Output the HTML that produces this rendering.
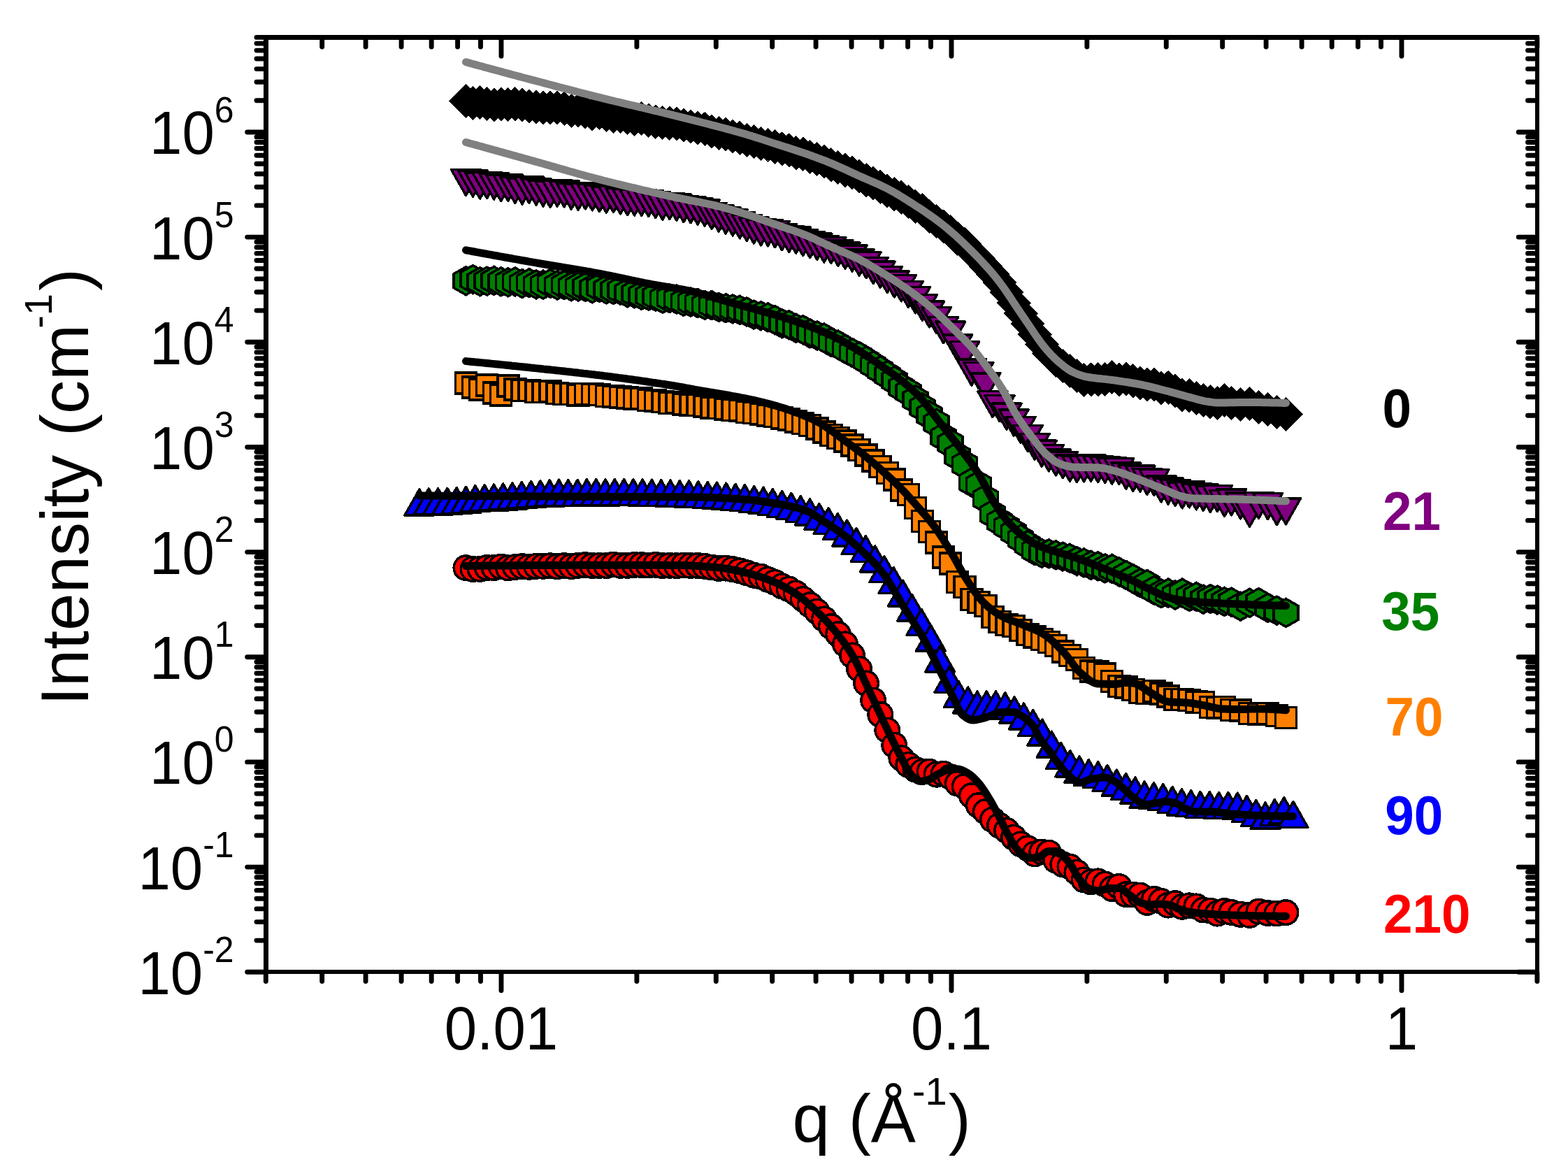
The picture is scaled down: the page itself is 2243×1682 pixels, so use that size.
<!DOCTYPE html>
<html lang="en"><head><meta charset="utf-8"><title>Intensity vs q</title>
<style>html,body{margin:0;padding:0;background:#fff}body{width:2243px;height:1682px;overflow:hidden}svg{display:block}</style>
</head><body>
<svg width="2243" height="1682" viewBox="0 0 2243 1682" role="img" aria-label="Intensity versus q">
<rect width="2243" height="1682" fill="#fff"/>
<g id="series">
<g fill="#000" stroke="#000" stroke-width="3.5" stroke-linejoin="miter" shape-rendering="crispEdges"><path d="M644.4 144.2l22.1 -22.1l22.1 22.1l-22.1 22.1z"/><path d="M654.4 147.5l22.1 -22.1l22.1 22.1l-22.1 22.1z"/><path d="M664.5 146.7l22.1 -22.1l22.1 22.1l-22.1 22.1z"/><path d="M674.5 148.4l22.1 -22.1l22.1 22.1l-22.1 22.1z"/><path d="M684.6 150.0l22.1 -22.1l22.1 22.1l-22.1 22.1z"/><path d="M694.6 149.0l22.1 -22.1l22.1 22.1l-22.1 22.1z"/><path d="M704.7 149.6l22.1 -22.1l22.1 22.1l-22.1 22.1z"/><path d="M714.7 148.7l22.1 -22.1l22.1 22.1l-22.1 22.1z"/><path d="M724.8 150.2l22.1 -22.1l22.1 22.1l-22.1 22.1z"/><path d="M734.8 151.7l22.1 -22.1l22.1 22.1l-22.1 22.1z"/><path d="M744.9 153.1l22.1 -22.1l22.1 22.1l-22.1 22.1z"/><path d="M754.9 154.4l22.1 -22.1l22.1 22.1l-22.1 22.1z"/><path d="M765.0 153.8l22.1 -22.1l22.1 22.1l-22.1 22.1z"/><path d="M775.0 153.7l22.1 -22.1l22.1 22.1l-22.1 22.1z"/><path d="M785.0 155.4l22.1 -22.1l22.1 22.1l-22.1 22.1z"/><path d="M795.1 158.6l22.1 -22.1l22.1 22.1l-22.1 22.1z"/><path d="M805.1 157.7l22.1 -22.1l22.1 22.1l-22.1 22.1z"/><path d="M815.2 159.9l22.1 -22.1l22.1 22.1l-22.1 22.1z"/><path d="M825.2 162.8l22.1 -22.1l22.1 22.1l-22.1 22.1z"/><path d="M835.3 161.4l22.1 -22.1l22.1 22.1l-22.1 22.1z"/><path d="M845.3 164.4l22.1 -22.1l22.1 22.1l-22.1 22.1z"/><path d="M855.4 166.8l22.1 -22.1l22.1 22.1l-22.1 22.1z"/><path d="M865.4 166.0l22.1 -22.1l22.1 22.1l-22.1 22.1z"/><path d="M875.5 168.2l22.1 -22.1l22.1 22.1l-22.1 22.1z"/><path d="M885.5 170.6l22.1 -22.1l22.1 22.1l-22.1 22.1z"/><path d="M895.5 169.7l22.1 -22.1l22.1 22.1l-22.1 22.1z"/><path d="M905.6 172.2l22.1 -22.1l22.1 22.1l-22.1 22.1z"/><path d="M915.6 174.2l22.1 -22.1l22.1 22.1l-22.1 22.1z"/><path d="M925.7 175.4l22.1 -22.1l22.1 22.1l-22.1 22.1z"/><path d="M935.7 176.3l22.1 -22.1l22.1 22.1l-22.1 22.1z"/><path d="M945.8 177.1l22.1 -22.1l22.1 22.1l-22.1 22.1z"/><path d="M955.8 179.3l22.1 -22.1l22.1 22.1l-22.1 22.1z"/><path d="M965.9 180.7l22.1 -22.1l22.1 22.1l-22.1 22.1z"/><path d="M975.9 182.7l22.1 -22.1l22.1 22.1l-22.1 22.1z"/><path d="M986.0 184.5l22.1 -22.1l22.1 22.1l-22.1 22.1z"/><path d="M996.0 188.0l22.1 -22.1l22.1 22.1l-22.1 22.1z"/><path d="M1006.1 190.4l22.1 -22.1l22.1 22.1l-22.1 22.1z"/><path d="M1016.1 191.9l22.1 -22.1l22.1 22.1l-22.1 22.1z"/><path d="M1026.1 195.2l22.1 -22.1l22.1 22.1l-22.1 22.1z"/><path d="M1036.2 197.2l22.1 -22.1l22.1 22.1l-22.1 22.1z"/><path d="M1046.2 200.3l22.1 -22.1l22.1 22.1l-22.1 22.1z"/><path d="M1056.3 202.5l22.1 -22.1l22.1 22.1l-22.1 22.1z"/><path d="M1066.3 205.7l22.1 -22.1l22.1 22.1l-22.1 22.1z"/><path d="M1076.4 207.4l22.1 -22.1l22.1 22.1l-22.1 22.1z"/><path d="M1086.4 210.0l22.1 -22.1l22.1 22.1l-22.1 22.1z"/><path d="M1096.5 213.0l22.1 -22.1l22.1 22.1l-22.1 22.1z"/><path d="M1106.5 215.0l22.1 -22.1l22.1 22.1l-22.1 22.1z"/><path d="M1116.6 218.8l22.1 -22.1l22.1 22.1l-22.1 22.1z"/><path d="M1126.6 220.2l22.1 -22.1l22.1 22.1l-22.1 22.1z"/><path d="M1136.6 224.7l22.1 -22.1l22.1 22.1l-22.1 22.1z"/><path d="M1146.7 227.5l22.1 -22.1l22.1 22.1l-22.1 22.1z"/><path d="M1156.7 231.2l22.1 -22.1l22.1 22.1l-22.1 22.1z"/><path d="M1166.8 235.6l22.1 -22.1l22.1 22.1l-22.1 22.1z"/><path d="M1176.8 239.5l22.1 -22.1l22.1 22.1l-22.1 22.1z"/><path d="M1186.9 243.5l22.1 -22.1l22.1 22.1l-22.1 22.1z"/><path d="M1196.9 247.1l22.1 -22.1l22.1 22.1l-22.1 22.1z"/><path d="M1207.0 251.7l22.1 -22.1l22.1 22.1l-22.1 22.1z"/><path d="M1217.0 257.6l22.1 -22.1l22.1 22.1l-22.1 22.1z"/><path d="M1227.1 262.0l22.1 -22.1l22.1 22.1l-22.1 22.1z"/><path d="M1237.1 267.3l22.1 -22.1l22.1 22.1l-22.1 22.1z"/><path d="M1247.2 273.0l22.1 -22.1l22.1 22.1l-22.1 22.1z"/><path d="M1257.2 277.8l22.1 -22.1l22.1 22.1l-22.1 22.1z"/><path d="M1267.2 282.2l22.1 -22.1l22.1 22.1l-22.1 22.1z"/><path d="M1277.3 288.5l22.1 -22.1l22.1 22.1l-22.1 22.1z"/><path d="M1287.3 295.1l22.1 -22.1l22.1 22.1l-22.1 22.1z"/><path d="M1297.4 300.8l22.1 -22.1l22.1 22.1l-22.1 22.1z"/><path d="M1307.4 309.1l22.1 -22.1l22.1 22.1l-22.1 22.1z"/><path d="M1317.5 316.4l22.1 -22.1l22.1 22.1l-22.1 22.1z"/><path d="M1327.5 324.0l22.1 -22.1l22.1 22.1l-22.1 22.1z"/><path d="M1337.6 331.6l22.1 -22.1l22.1 22.1l-22.1 22.1z"/><path d="M1347.6 341.2l22.1 -22.1l22.1 22.1l-22.1 22.1z"/><path d="M1357.7 349.2l22.1 -22.1l22.1 22.1l-22.1 22.1z"/><path d="M1367.7 359.4l22.1 -22.1l22.1 22.1l-22.1 22.1z"/><path d="M1377.7 369.9l22.1 -22.1l22.1 22.1l-22.1 22.1z"/><path d="M1387.8 381.3l22.1 -22.1l22.1 22.1l-22.1 22.1z"/><path d="M1397.8 392.2l22.1 -22.1l22.1 22.1l-22.1 22.1z"/><path d="M1407.9 403.9l22.1 -22.1l22.1 22.1l-22.1 22.1z"/><path d="M1417.9 418.4l22.1 -22.1l22.1 22.1l-22.1 22.1z"/><path d="M1428.0 433.4l22.1 -22.1l22.1 22.1l-22.1 22.1z"/><path d="M1438.0 448.4l22.1 -22.1l22.1 22.1l-22.1 22.1z"/><path d="M1448.1 462.9l22.1 -22.1l22.1 22.1l-22.1 22.1z"/><path d="M1458.1 478.3l22.1 -22.1l22.1 22.1l-22.1 22.1z"/><path d="M1468.2 492.5l22.1 -22.1l22.1 22.1l-22.1 22.1z"/><path d="M1478.2 505.3l22.1 -22.1l22.1 22.1l-22.1 22.1z"/><path d="M1488.3 515.6l22.1 -22.1l22.1 22.1l-22.1 22.1z"/><path d="M1498.3 523.5l22.1 -22.1l22.1 22.1l-22.1 22.1z"/><path d="M1508.3 530.4l22.1 -22.1l22.1 22.1l-22.1 22.1z"/><path d="M1518.4 537.5l22.1 -22.1l22.1 22.1l-22.1 22.1z"/><path d="M1528.4 543.1l22.1 -22.1l22.1 22.1l-22.1 22.1z"/><path d="M1538.5 543.0l22.1 -22.1l22.1 22.1l-22.1 22.1z"/><path d="M1548.5 542.9l22.1 -22.1l22.1 22.1l-22.1 22.1z"/><path d="M1558.6 542.7l22.1 -22.1l22.1 22.1l-22.1 22.1z"/><path d="M1568.6 539.5l22.1 -22.1l22.1 22.1l-22.1 22.1z"/><path d="M1578.7 542.8l22.1 -22.1l22.1 22.1l-22.1 22.1z"/><path d="M1588.7 542.0l22.1 -22.1l22.1 22.1l-22.1 22.1z"/><path d="M1598.8 544.6l22.1 -22.1l22.1 22.1l-22.1 22.1z"/><path d="M1608.8 548.0l22.1 -22.1l22.1 22.1l-22.1 22.1z"/><path d="M1618.8 549.8l22.1 -22.1l22.1 22.1l-22.1 22.1z"/><path d="M1628.9 549.6l22.1 -22.1l22.1 22.1l-22.1 22.1z"/><path d="M1638.9 554.9l22.1 -22.1l22.1 22.1l-22.1 22.1z"/><path d="M1649.0 554.5l22.1 -22.1l22.1 22.1l-22.1 22.1z"/><path d="M1659.0 559.2l22.1 -22.1l22.1 22.1l-22.1 22.1z"/><path d="M1669.1 565.0l22.1 -22.1l22.1 22.1l-22.1 22.1z"/><path d="M1679.1 565.7l22.1 -22.1l22.1 22.1l-22.1 22.1z"/><path d="M1689.2 569.3l22.1 -22.1l22.1 22.1l-22.1 22.1z"/><path d="M1699.2 572.3l22.1 -22.1l22.1 22.1l-22.1 22.1z"/><path d="M1709.3 574.9l22.1 -22.1l22.1 22.1l-22.1 22.1z"/><path d="M1719.3 576.3l22.1 -22.1l22.1 22.1l-22.1 22.1z"/><path d="M1729.4 572.7l22.1 -22.1l22.1 22.1l-22.1 22.1z"/><path d="M1739.4 576.7l22.1 -22.1l22.1 22.1l-22.1 22.1z"/><path d="M1752.4 578.5l22.1 -22.1l22.1 22.1l-22.1 22.1z"/><path d="M1765.4 577.2l22.1 -22.1l22.1 22.1l-22.1 22.1z"/><path d="M1778.4 582.8l22.1 -22.1l22.1 22.1l-22.1 22.1z"/><path d="M1791.4 585.5l22.1 -22.1l22.1 22.1l-22.1 22.1z"/><path d="M1804.4 589.5l22.1 -22.1l22.1 22.1l-22.1 22.1z"/><path d="M1817.4 592.9l22.1 -22.1l22.1 22.1l-22.1 22.1z"/></g><path d="M666.5 88.8 L669.5 89.6 L672.5 90.4 L675.5 91.3 L678.5 92.1 L681.5 92.9 L684.5 93.7 L687.5 94.5 L690.5 95.3 L693.5 96.2 L696.5 97.0 L699.5 97.8 L702.5 98.6 L705.5 99.4 L708.5 100.2 L711.5 101.0 L714.5 101.8 L717.5 102.6 L720.5 103.5 L723.5 104.3 L726.5 105.1 L729.5 105.9 L732.5 106.7 L735.5 107.5 L738.5 108.3 L741.5 109.1 L744.5 109.9 L747.5 110.7 L750.5 111.5 L753.5 112.3 L756.5 113.1 L759.5 113.9 L762.5 114.7 L765.5 115.4 L768.5 116.2 L771.5 117.0 L774.5 117.8 L777.5 118.6 L780.5 119.4 L783.5 120.2 L786.5 121.0 L789.5 121.8 L792.5 122.6 L795.5 123.4 L798.5 124.2 L801.5 125.0 L804.5 125.7 L807.5 126.5 L810.5 127.3 L813.5 128.1 L816.5 128.9 L819.5 129.7 L822.5 130.4 L825.5 131.2 L828.5 132.0 L831.5 132.8 L834.5 133.5 L837.5 134.3 L840.5 135.1 L843.5 135.8 L846.5 136.6 L849.5 137.4 L852.5 138.1 L855.5 138.9 L858.5 139.6 L861.5 140.4 L864.5 141.1 L867.5 141.9 L870.5 142.6 L873.5 143.3 L876.5 144.0 L879.5 144.8 L882.5 145.5 L885.5 146.2 L888.5 146.9 L891.5 147.6 L894.5 148.4 L897.5 149.1 L900.5 149.8 L903.5 150.5 L906.5 151.2 L909.5 151.9 L912.5 152.6 L915.5 153.3 L918.5 154.0 L921.5 154.7 L924.5 155.4 L927.5 156.2 L930.5 156.9 L933.5 157.6 L936.5 158.3 L939.5 159.0 L942.5 159.7 L945.5 160.5 L948.5 161.2 L951.5 161.9 L954.5 162.7 L957.5 163.4 L960.5 164.1 L963.5 164.9 L966.5 165.6 L969.5 166.4 L972.5 167.1 L975.5 167.9 L978.5 168.6 L981.5 169.4 L984.5 170.1 L987.5 170.9 L990.5 171.6 L993.5 172.4 L996.5 173.2 L999.5 173.9 L1002.5 174.7 L1005.5 175.5 L1008.5 176.2 L1011.5 177.0 L1014.5 177.8 L1017.5 178.6 L1020.5 179.3 L1023.5 180.1 L1026.5 180.9 L1029.5 181.7 L1032.5 182.5 L1035.5 183.3 L1038.5 184.1 L1041.5 184.9 L1044.5 185.7 L1047.5 186.5 L1050.5 187.4 L1053.5 188.2 L1056.5 189.0 L1059.5 189.9 L1062.5 190.7 L1065.5 191.6 L1068.5 192.5 L1071.5 193.4 L1074.5 194.3 L1077.5 195.2 L1080.5 196.2 L1083.5 197.2 L1086.5 198.1 L1089.5 199.1 L1092.5 200.1 L1095.5 201.1 L1098.5 202.1 L1101.5 203.1 L1104.5 204.1 L1107.5 205.1 L1110.5 206.1 L1113.5 207.0 L1116.5 208.0 L1119.5 208.9 L1122.5 209.9 L1125.5 210.8 L1128.5 211.8 L1131.5 212.8 L1134.5 213.7 L1137.5 214.7 L1140.5 215.7 L1143.5 216.7 L1146.5 217.7 L1149.5 218.7 L1152.5 219.8 L1155.5 220.8 L1158.5 221.9 L1161.5 223.0 L1164.5 224.1 L1167.5 225.2 L1170.5 226.3 L1173.5 227.4 L1176.5 228.6 L1179.5 229.7 L1182.5 230.9 L1185.5 232.1 L1188.5 233.3 L1191.5 234.6 L1194.5 235.9 L1197.5 237.2 L1200.5 238.5 L1203.5 239.9 L1206.5 241.2 L1209.5 242.6 L1212.5 244.0 L1215.5 245.4 L1218.5 246.8 L1221.5 248.2 L1224.5 249.6 L1227.5 251.0 L1230.5 252.3 L1233.5 253.6 L1236.5 254.9 L1239.5 256.2 L1242.5 257.5 L1245.5 258.8 L1248.5 260.1 L1251.5 261.4 L1254.5 262.7 L1257.5 264.1 L1260.5 265.5 L1263.5 266.9 L1266.5 268.4 L1269.5 269.9 L1272.5 271.5 L1275.5 273.1 L1278.5 274.8 L1281.5 276.5 L1284.5 278.3 L1287.5 280.1 L1290.5 281.9 L1293.5 283.8 L1296.5 285.7 L1299.5 287.6 L1302.5 289.5 L1305.5 291.4 L1308.5 293.3 L1311.5 295.3 L1314.5 297.2 L1317.5 299.2 L1320.5 301.2 L1323.5 303.2 L1326.5 305.3 L1329.5 307.3 L1332.5 309.5 L1335.5 311.6 L1338.5 313.8 L1341.5 316.0 L1344.5 318.3 L1347.5 320.6 L1350.5 323.0 L1353.5 325.4 L1356.5 327.9 L1359.5 330.5 L1362.5 333.1 L1365.5 335.7 L1368.5 338.4 L1371.5 341.2 L1374.5 344.0 L1377.5 346.8 L1380.5 349.7 L1383.5 352.6 L1386.5 355.5 L1389.5 358.5 L1392.5 361.5 L1395.5 364.5 L1398.5 367.6 L1401.5 370.7 L1404.5 373.9 L1407.5 377.2 L1410.5 380.5 L1413.5 383.8 L1416.5 387.2 L1419.5 390.7 L1422.5 394.3 L1425.5 398.0 L1428.5 401.7 L1431.5 405.7 L1434.5 409.8 L1437.5 414.0 L1440.5 418.4 L1443.5 422.8 L1446.5 427.3 L1449.5 431.9 L1452.5 436.4 L1455.5 441.0 L1458.5 445.4 L1461.5 449.8 L1464.5 454.2 L1467.5 458.6 L1470.5 463.0 L1473.5 467.5 L1476.5 472.0 L1479.5 476.5 L1482.5 480.8 L1485.5 485.1 L1488.5 489.3 L1491.5 493.3 L1494.5 497.0 L1497.5 500.6 L1500.5 503.9 L1503.5 507.2 L1506.5 510.3 L1509.5 513.2 L1512.5 516.0 L1515.5 518.6 L1518.5 521.1 L1521.5 523.5 L1524.5 525.8 L1527.5 527.9 L1530.5 529.9 L1533.5 531.6 L1536.5 533.0 L1539.5 534.3 L1542.5 535.5 L1545.5 536.6 L1548.5 537.5 L1551.5 538.4 L1554.5 539.0 L1557.5 539.5 L1560.5 540.0 L1563.5 540.4 L1566.5 540.8 L1569.5 541.2 L1572.5 541.5 L1575.5 541.8 L1578.5 542.1 L1581.5 542.4 L1584.5 542.8 L1587.5 543.1 L1590.5 543.5 L1593.5 543.9 L1596.5 544.3 L1599.5 544.8 L1602.5 545.2 L1605.5 545.6 L1608.5 546.1 L1611.5 546.5 L1614.5 547.0 L1617.5 547.5 L1620.5 548.0 L1623.5 548.5 L1626.5 549.0 L1629.5 549.6 L1632.5 550.2 L1635.5 550.8 L1638.5 551.5 L1641.5 552.2 L1644.5 552.9 L1647.5 553.6 L1650.5 554.4 L1653.5 555.1 L1656.5 555.9 L1659.5 556.7 L1662.5 557.5 L1665.5 558.3 L1668.5 559.0 L1671.5 559.8 L1674.5 560.6 L1677.5 561.4 L1680.5 562.3 L1683.5 563.1 L1686.5 564.0 L1689.5 564.8 L1692.5 565.6 L1695.5 566.5 L1698.5 567.3 L1701.5 568.1 L1704.5 568.9 L1707.5 569.7 L1710.5 570.5 L1713.5 571.4 L1716.5 572.2 L1719.5 572.9 L1722.5 573.6 L1725.5 574.1 L1728.5 574.5 L1731.5 575.0 L1734.5 575.4 L1737.5 575.7 L1740.5 575.9 L1743.5 576.0 L1746.5 576.0 L1749.5 576.0 L1752.5 575.9 L1755.5 575.9 L1758.5 575.8 L1761.5 575.8 L1764.5 575.7 L1767.5 575.7 L1770.5 575.6 L1773.5 575.6 L1776.5 575.5 L1779.5 575.5 L1782.5 575.5 L1785.5 575.5 L1788.5 575.5 L1791.5 575.5 L1794.5 575.5 L1797.5 575.6 L1800.5 575.6 L1803.5 575.6 L1806.5 575.7 L1809.5 575.7 L1812.5 575.8 L1815.5 575.8 L1818.5 575.9 L1821.5 576.0 L1824.5 576.0 L1827.5 576.1 L1830.5 576.2 L1833.5 576.3 L1836.5 576.4 L1839.5 576.5" fill="none" stroke="#808080" stroke-width="11" stroke-linecap="round" stroke-linejoin="round"/>
<g fill="#800080" stroke="#000" stroke-width="3.5" stroke-linejoin="round" shape-rendering="crispEdges"><path d="M645.5 242.5h42.0l-21.0 37.0z"/><path d="M655.5 244.2h42.0l-21.0 37.0z"/><path d="M665.6 247.1h42.0l-21.0 37.0z"/><path d="M675.6 246.4h42.0l-21.0 37.0z"/><path d="M685.7 247.9h42.0l-21.0 37.0z"/><path d="M695.7 250.5h42.0l-21.0 37.0z"/><path d="M705.8 250.2h42.0l-21.0 37.0z"/><path d="M715.8 253.5h42.0l-21.0 37.0z"/><path d="M725.9 254.9h42.0l-21.0 37.0z"/><path d="M735.9 253.2h42.0l-21.0 37.0z"/><path d="M746.0 256.0h42.0l-21.0 37.0z"/><path d="M756.0 257.9h42.0l-21.0 37.0z"/><path d="M766.1 259.4h42.0l-21.0 37.0z"/><path d="M776.1 258.1h42.0l-21.0 37.0z"/><path d="M786.1 258.8h42.0l-21.0 37.0z"/><path d="M796.2 262.0h42.0l-21.0 37.0z"/><path d="M806.2 263.0h42.0l-21.0 37.0z"/><path d="M816.3 261.9h42.0l-21.0 37.0z"/><path d="M826.3 263.7h42.0l-21.0 37.0z"/><path d="M836.4 265.6h42.0l-21.0 37.0z"/><path d="M846.4 267.1h42.0l-21.0 37.0z"/><path d="M856.5 266.3h42.0l-21.0 37.0z"/><path d="M866.5 268.9h42.0l-21.0 37.0z"/><path d="M876.6 270.5h42.0l-21.0 37.0z"/><path d="M886.6 271.1h42.0l-21.0 37.0z"/><path d="M896.6 271.4h42.0l-21.0 37.0z"/><path d="M906.7 272.4h42.0l-21.0 37.0z"/><path d="M916.7 274.4h42.0l-21.0 37.0z"/><path d="M926.8 277.2h42.0l-21.0 37.0z"/><path d="M936.8 276.7h42.0l-21.0 37.0z"/><path d="M946.9 278.2h42.0l-21.0 37.0z"/><path d="M956.9 280.6h42.0l-21.0 37.0z"/><path d="M967.0 281.7h42.0l-21.0 37.0z"/><path d="M977.0 283.9h42.0l-21.0 37.0z"/><path d="M987.1 286.1h42.0l-21.0 37.0z"/><path d="M997.1 290.3h42.0l-21.0 37.0z"/><path d="M1007.2 294.0h42.0l-21.0 37.0z"/><path d="M1017.2 297.0h42.0l-21.0 37.0z"/><path d="M1027.2 299.9h42.0l-21.0 37.0z"/><path d="M1037.3 303.8h42.0l-21.0 37.0z"/><path d="M1047.3 307.5h42.0l-21.0 37.0z"/><path d="M1057.4 311.1h42.0l-21.0 37.0z"/><path d="M1067.4 313.8h42.0l-21.0 37.0z"/><path d="M1077.5 314.7h42.0l-21.0 37.0z"/><path d="M1087.5 316.6h42.0l-21.0 37.0z"/><path d="M1097.6 320.7h42.0l-21.0 37.0z"/><path d="M1107.6 323.4h42.0l-21.0 37.0z"/><path d="M1117.7 325.1h42.0l-21.0 37.0z"/><path d="M1127.7 328.6h42.0l-21.0 37.0z"/><path d="M1137.7 331.7h42.0l-21.0 37.0z"/><path d="M1147.8 334.2h42.0l-21.0 37.0z"/><path d="M1157.8 337.9h42.0l-21.0 37.0z"/><path d="M1167.9 339.4h42.0l-21.0 37.0z"/><path d="M1177.9 343.4h42.0l-21.0 37.0z"/><path d="M1188.0 347.2h42.0l-21.0 37.0z"/><path d="M1198.0 350.9h42.0l-21.0 37.0z"/><path d="M1208.1 357.0h42.0l-21.0 37.0z"/><path d="M1218.1 360.7h42.0l-21.0 37.0z"/><path d="M1228.2 368.5h42.0l-21.0 37.0z"/><path d="M1238.2 374.2h42.0l-21.0 37.0z"/><path d="M1248.3 381.5h42.0l-21.0 37.0z"/><path d="M1258.3 387.9h42.0l-21.0 37.0z"/><path d="M1268.3 393.7h42.0l-21.0 37.0z"/><path d="M1278.4 402.4h42.0l-21.0 37.0z"/><path d="M1288.4 410.7h42.0l-21.0 37.0z"/><path d="M1298.5 421.4h42.0l-21.0 37.0z"/><path d="M1308.5 431.0h42.0l-21.0 37.0z"/><path d="M1318.6 439.5h42.0l-21.0 37.0z"/><path d="M1328.6 453.7h42.0l-21.0 37.0z"/><path d="M1338.7 460.2h42.0l-21.0 37.0z"/><path d="M1348.7 478.8h42.0l-21.0 37.0z"/><path d="M1358.8 488.7h42.0l-21.0 37.0z"/><path d="M1368.8 514.0h42.0l-21.0 37.0z"/><path d="M1378.8 518.5h42.0l-21.0 37.0z"/><path d="M1388.9 533.8h42.0l-21.0 37.0z"/><path d="M1398.9 559.7h42.0l-21.0 37.0z"/><path d="M1409.0 565.7h42.0l-21.0 37.0z"/><path d="M1419.0 577.2h42.0l-21.0 37.0z"/><path d="M1429.1 585.9h42.0l-21.0 37.0z"/><path d="M1439.1 596.4h42.0l-21.0 37.0z"/><path d="M1449.2 608.7h42.0l-21.0 37.0z"/><path d="M1459.2 620.3h42.0l-21.0 37.0z"/><path d="M1469.3 630.2h42.0l-21.0 37.0z"/><path d="M1479.3 636.7h42.0l-21.0 37.0z"/><path d="M1489.4 643.0h42.0l-21.0 37.0z"/><path d="M1499.4 646.6h42.0l-21.0 37.0z"/><path d="M1509.4 651.2h42.0l-21.0 37.0z"/><path d="M1519.5 652.5h42.0l-21.0 37.0z"/><path d="M1529.5 651.9h42.0l-21.0 37.0z"/><path d="M1539.6 651.2h42.0l-21.0 37.0z"/><path d="M1549.6 652.6h42.0l-21.0 37.0z"/><path d="M1559.7 653.5h42.0l-21.0 37.0z"/><path d="M1569.7 655.1h42.0l-21.0 37.0z"/><path d="M1579.8 655.7h42.0l-21.0 37.0z"/><path d="M1589.8 662.2h42.0l-21.0 37.0z"/><path d="M1599.9 665.5h42.0l-21.0 37.0z"/><path d="M1609.9 666.1h42.0l-21.0 37.0z"/><path d="M1619.9 670.4h42.0l-21.0 37.0z"/><path d="M1630.0 671.4h42.0l-21.0 37.0z"/><path d="M1640.0 680.8h42.0l-21.0 37.0z"/><path d="M1650.1 683.9h42.0l-21.0 37.0z"/><path d="M1660.1 686.4h42.0l-21.0 37.0z"/><path d="M1670.2 689.8h42.0l-21.0 37.0z"/><path d="M1680.2 688.8h42.0l-21.0 37.0z"/><path d="M1690.3 691.8h42.0l-21.0 37.0z"/><path d="M1700.3 693.1h42.0l-21.0 37.0z"/><path d="M1710.4 695.4h42.0l-21.0 37.0z"/><path d="M1720.4 694.3h42.0l-21.0 37.0z"/><path d="M1730.5 701.4h42.0l-21.0 37.0z"/><path d="M1740.5 699.9h42.0l-21.0 37.0z"/><path d="M1753.5 704.9h42.0l-21.0 37.0z"/><path d="M1766.5 716.2h42.0l-21.0 37.0z"/><path d="M1779.5 704.3h42.0l-21.0 37.0z"/><path d="M1792.5 705.6h42.0l-21.0 37.0z"/><path d="M1805.5 713.6h42.0l-21.0 37.0z"/><path d="M1818.5 712.8h42.0l-21.0 37.0z"/></g><path d="M666.5 203.5 L669.5 204.3 L672.5 205.2 L675.5 206.0 L678.5 206.8 L681.5 207.6 L684.5 208.5 L687.5 209.3 L690.5 210.1 L693.5 211.0 L696.5 211.8 L699.5 212.6 L702.5 213.4 L705.5 214.3 L708.5 215.1 L711.5 215.9 L714.5 216.8 L717.5 217.6 L720.5 218.4 L723.5 219.3 L726.5 220.1 L729.5 220.9 L732.5 221.8 L735.5 222.6 L738.5 223.4 L741.5 224.3 L744.5 225.1 L747.5 225.9 L750.5 226.8 L753.5 227.6 L756.5 228.4 L759.5 229.3 L762.5 230.1 L765.5 230.9 L768.5 231.8 L771.5 232.6 L774.5 233.5 L777.5 234.3 L780.5 235.2 L783.5 236.1 L786.5 236.9 L789.5 237.8 L792.5 238.6 L795.5 239.5 L798.5 240.4 L801.5 241.2 L804.5 242.1 L807.5 242.9 L810.5 243.8 L813.5 244.7 L816.5 245.5 L819.5 246.3 L822.5 247.2 L825.5 248.0 L828.5 248.9 L831.5 249.7 L834.5 250.5 L837.5 251.4 L840.5 252.2 L843.5 253.0 L846.5 253.8 L849.5 254.6 L852.5 255.4 L855.5 256.2 L858.5 256.9 L861.5 257.7 L864.5 258.5 L867.5 259.2 L870.5 260.0 L873.5 260.7 L876.5 261.5 L879.5 262.2 L882.5 263.0 L885.5 263.7 L888.5 264.4 L891.5 265.1 L894.5 265.9 L897.5 266.6 L900.5 267.3 L903.5 268.0 L906.5 268.7 L909.5 269.4 L912.5 270.2 L915.5 270.9 L918.5 271.6 L921.5 272.3 L924.5 272.9 L927.5 273.6 L930.5 274.3 L933.5 275.0 L936.5 275.7 L939.5 276.4 L942.5 277.1 L945.5 277.7 L948.5 278.4 L951.5 279.1 L954.5 279.7 L957.5 280.4 L960.5 281.1 L963.5 281.7 L966.5 282.4 L969.5 283.0 L972.5 283.6 L975.5 284.2 L978.5 284.8 L981.5 285.4 L984.5 286.0 L987.5 286.6 L990.5 287.2 L993.5 287.7 L996.5 288.3 L999.5 288.9 L1002.5 289.5 L1005.5 290.2 L1008.5 290.8 L1011.5 291.4 L1014.5 292.1 L1017.5 292.7 L1020.5 293.4 L1023.5 294.1 L1026.5 294.8 L1029.5 295.5 L1032.5 296.3 L1035.5 297.1 L1038.5 297.9 L1041.5 298.7 L1044.5 299.5 L1047.5 300.4 L1050.5 301.3 L1053.5 302.2 L1056.5 303.1 L1059.5 304.0 L1062.5 305.0 L1065.5 305.9 L1068.5 306.9 L1071.5 307.8 L1074.5 308.8 L1077.5 309.8 L1080.5 310.8 L1083.5 311.9 L1086.5 312.9 L1089.5 314.0 L1092.5 315.1 L1095.5 316.1 L1098.5 317.2 L1101.5 318.3 L1104.5 319.4 L1107.5 320.4 L1110.5 321.5 L1113.5 322.5 L1116.5 323.5 L1119.5 324.6 L1122.5 325.6 L1125.5 326.6 L1128.5 327.6 L1131.5 328.6 L1134.5 329.6 L1137.5 330.7 L1140.5 331.8 L1143.5 332.9 L1146.5 334.0 L1149.5 335.2 L1152.5 336.4 L1155.5 337.6 L1158.5 338.9 L1161.5 340.2 L1164.5 341.6 L1167.5 343.0 L1170.5 344.4 L1173.5 345.8 L1176.5 347.2 L1179.5 348.6 L1182.5 350.0 L1185.5 351.4 L1188.5 352.7 L1191.5 354.1 L1194.5 355.4 L1197.5 356.7 L1200.5 358.0 L1203.5 359.3 L1206.5 360.6 L1209.5 361.9 L1212.5 363.2 L1215.5 364.5 L1218.5 365.9 L1221.5 367.3 L1224.5 368.7 L1227.5 370.2 L1230.5 371.7 L1233.5 373.3 L1236.5 374.9 L1239.5 376.6 L1242.5 378.3 L1245.5 380.1 L1248.5 381.9 L1251.5 383.7 L1254.5 385.5 L1257.5 387.3 L1260.5 389.2 L1263.5 391.1 L1266.5 392.9 L1269.5 394.8 L1272.5 396.7 L1275.5 398.6 L1278.5 400.6 L1281.5 402.5 L1284.5 404.5 L1287.5 406.5 L1290.5 408.5 L1293.5 410.5 L1296.5 412.6 L1299.5 414.7 L1302.5 416.9 L1305.5 419.0 L1308.5 421.2 L1311.5 423.5 L1314.5 425.7 L1317.5 428.1 L1320.5 430.4 L1323.5 432.9 L1326.5 435.4 L1329.5 437.9 L1332.5 440.6 L1335.5 443.3 L1338.5 446.0 L1341.5 448.8 L1344.5 451.6 L1347.5 454.5 L1350.5 457.3 L1353.5 460.2 L1356.5 463.1 L1359.5 466.1 L1362.5 469.0 L1365.5 472.0 L1368.5 475.0 L1371.5 478.0 L1374.5 480.9 L1377.5 483.9 L1380.5 486.9 L1383.5 489.9 L1386.5 493.1 L1389.5 496.4 L1392.5 499.9 L1395.5 503.5 L1398.5 507.2 L1401.5 511.1 L1404.5 515.0 L1407.5 519.1 L1410.5 523.1 L1413.5 527.2 L1416.5 531.2 L1419.5 535.3 L1422.5 539.5 L1425.5 543.7 L1428.5 548.1 L1431.5 552.7 L1434.5 557.5 L1437.5 562.8 L1440.5 568.4 L1443.5 574.3 L1446.5 580.2 L1449.5 585.9 L1452.5 591.2 L1455.5 596.0 L1458.5 600.7 L1461.5 605.1 L1464.5 609.4 L1467.5 613.6 L1470.5 617.7 L1473.5 621.6 L1476.5 625.6 L1479.5 629.5 L1482.5 633.5 L1485.5 637.3 L1488.5 641.0 L1491.5 644.5 L1494.5 647.7 L1497.5 650.4 L1500.5 653.0 L1503.5 655.5 L1506.5 657.9 L1509.5 660.0 L1512.5 661.7 L1515.5 663.1 L1518.5 664.2 L1521.5 665.2 L1524.5 666.1 L1527.5 666.9 L1530.5 667.5 L1533.5 667.9 L1536.5 668.1 L1539.5 668.2 L1542.5 668.3 L1545.5 668.4 L1548.5 668.4 L1551.5 668.5 L1554.5 668.5 L1557.5 668.6 L1560.5 668.6 L1563.5 668.7 L1566.5 668.7 L1569.5 668.8 L1572.5 669.0 L1575.5 669.2 L1578.5 669.6 L1581.5 670.2 L1584.5 670.9 L1587.5 671.7 L1590.5 672.4 L1593.5 673.2 L1596.5 674.0 L1599.5 674.9 L1602.5 675.8 L1605.5 676.8 L1608.5 677.9 L1611.5 679.0 L1614.5 680.1 L1617.5 681.2 L1620.5 682.4 L1623.5 683.5 L1626.5 684.7 L1629.5 685.8 L1632.5 686.9 L1635.5 688.1 L1638.5 689.3 L1641.5 690.5 L1644.5 691.7 L1647.5 692.9 L1650.5 694.1 L1653.5 695.4 L1656.5 696.6 L1659.5 697.8 L1662.5 699.1 L1665.5 700.3 L1668.5 701.5 L1671.5 702.8 L1674.5 704.1 L1677.5 705.4 L1680.5 706.7 L1683.5 707.8 L1686.5 708.8 L1689.5 709.6 L1692.5 710.4 L1695.5 711.1 L1698.5 711.7 L1701.5 712.3 L1704.5 712.6 L1707.5 712.8 L1710.5 712.9 L1713.5 713.0 L1716.5 713.1 L1719.5 713.1 L1722.5 713.2 L1725.5 713.3 L1728.5 713.3 L1731.5 713.4 L1734.5 713.4 L1737.5 713.5 L1740.5 713.5 L1743.5 713.6 L1746.5 713.7 L1749.5 713.7 L1752.5 713.8 L1755.5 713.9 L1758.5 713.9 L1761.5 714.0 L1764.5 714.1 L1767.5 714.1 L1770.5 714.2 L1773.5 714.3 L1776.5 714.3 L1779.5 714.4 L1782.5 714.5 L1785.5 714.6 L1788.5 714.7 L1791.5 714.8 L1794.5 714.9 L1797.5 715.0 L1800.5 715.1 L1803.5 715.2 L1806.5 715.3 L1809.5 715.5 L1812.5 715.6 L1815.5 715.7 L1818.5 715.8 L1821.5 716.0 L1824.5 716.1 L1827.5 716.2 L1830.5 716.4 L1833.5 716.5 L1836.5 716.7 L1839.5 716.8" fill="none" stroke="#808080" stroke-width="11" stroke-linecap="round" stroke-linejoin="round"/>
<g fill="#008000" stroke="#000" stroke-width="3.5" stroke-linejoin="miter" shape-rendering="crispEdges"><path d="M666.5 381.7l17.5 10.0v20.0l-17.5 10.0l-17.5 -10.0v-20.0z"/><path d="M676.5 379.6l17.5 10.0v20.0l-17.5 10.0l-17.5 -10.0v-20.0z"/><path d="M686.6 382.6l17.5 10.0v20.0l-17.5 10.0l-17.5 -10.0v-20.0z"/><path d="M696.6 382.1l17.5 10.0v20.0l-17.5 10.0l-17.5 -10.0v-20.0z"/><path d="M706.7 381.4l17.5 10.0v20.0l-17.5 10.0l-17.5 -10.0v-20.0z"/><path d="M716.7 382.8l17.5 10.0v20.0l-17.5 10.0l-17.5 -10.0v-20.0z"/><path d="M726.8 383.7l17.5 10.0v20.0l-17.5 10.0l-17.5 -10.0v-20.0z"/><path d="M736.8 382.9l17.5 10.0v20.0l-17.5 10.0l-17.5 -10.0v-20.0z"/><path d="M746.9 385.5l17.5 10.0v20.0l-17.5 10.0l-17.5 -10.0v-20.0z"/><path d="M756.9 384.6l17.5 10.0v20.0l-17.5 10.0l-17.5 -10.0v-20.0z"/><path d="M767.0 386.8l17.5 10.0v20.0l-17.5 10.0l-17.5 -10.0v-20.0z"/><path d="M777.0 387.2l17.5 10.0v20.0l-17.5 10.0l-17.5 -10.0v-20.0z"/><path d="M787.1 385.4l17.5 10.0v20.0l-17.5 10.0l-17.5 -10.0v-20.0z"/><path d="M797.1 387.9l17.5 10.0v20.0l-17.5 10.0l-17.5 -10.0v-20.0z"/><path d="M807.1 387.6l17.5 10.0v20.0l-17.5 10.0l-17.5 -10.0v-20.0z"/><path d="M817.2 389.7l17.5 10.0v20.0l-17.5 10.0l-17.5 -10.0v-20.0z"/><path d="M827.2 389.9l17.5 10.0v20.0l-17.5 10.0l-17.5 -10.0v-20.0z"/><path d="M837.3 390.5l17.5 10.0v20.0l-17.5 10.0l-17.5 -10.0v-20.0z"/><path d="M847.3 392.7l17.5 10.0v20.0l-17.5 10.0l-17.5 -10.0v-20.0z"/><path d="M857.4 391.2l17.5 10.0v20.0l-17.5 10.0l-17.5 -10.0v-20.0z"/><path d="M867.4 393.8l17.5 10.0v20.0l-17.5 10.0l-17.5 -10.0v-20.0z"/><path d="M877.5 394.5l17.5 10.0v20.0l-17.5 10.0l-17.5 -10.0v-20.0z"/><path d="M887.5 395.1l17.5 10.0v20.0l-17.5 10.0l-17.5 -10.0v-20.0z"/><path d="M897.6 398.7l17.5 10.0v20.0l-17.5 10.0l-17.5 -10.0v-20.0z"/><path d="M907.6 399.7l17.5 10.0v20.0l-17.5 10.0l-17.5 -10.0v-20.0z"/><path d="M917.6 402.2l17.5 10.0v20.0l-17.5 10.0l-17.5 -10.0v-20.0z"/><path d="M927.7 403.1l17.5 10.0v20.0l-17.5 10.0l-17.5 -10.0v-20.0z"/><path d="M937.7 404.0l17.5 10.0v20.0l-17.5 10.0l-17.5 -10.0v-20.0z"/><path d="M947.8 407.2l17.5 10.0v20.0l-17.5 10.0l-17.5 -10.0v-20.0z"/><path d="M957.8 406.6l17.5 10.0v20.0l-17.5 10.0l-17.5 -10.0v-20.0z"/><path d="M967.9 408.1l17.5 10.0v20.0l-17.5 10.0l-17.5 -10.0v-20.0z"/><path d="M977.9 411.4l17.5 10.0v20.0l-17.5 10.0l-17.5 -10.0v-20.0z"/><path d="M988.0 412.1l17.5 10.0v20.0l-17.5 10.0l-17.5 -10.0v-20.0z"/><path d="M998.0 413.6l17.5 10.0v20.0l-17.5 10.0l-17.5 -10.0v-20.0z"/><path d="M1008.1 416.3l17.5 10.0v20.0l-17.5 10.0l-17.5 -10.0v-20.0z"/><path d="M1018.1 416.6l17.5 10.0v20.0l-17.5 10.0l-17.5 -10.0v-20.0z"/><path d="M1028.2 419.4l17.5 10.0v20.0l-17.5 10.0l-17.5 -10.0v-20.0z"/><path d="M1038.2 420.6l17.5 10.0v20.0l-17.5 10.0l-17.5 -10.0v-20.0z"/><path d="M1048.2 421.8l17.5 10.0v20.0l-17.5 10.0l-17.5 -10.0v-20.0z"/><path d="M1058.3 423.3l17.5 10.0v20.0l-17.5 10.0l-17.5 -10.0v-20.0z"/><path d="M1068.3 426.0l17.5 10.0v20.0l-17.5 10.0l-17.5 -10.0v-20.0z"/><path d="M1078.4 430.1l17.5 10.0v20.0l-17.5 10.0l-17.5 -10.0v-20.0z"/><path d="M1088.4 431.6l17.5 10.0v20.0l-17.5 10.0l-17.5 -10.0v-20.0z"/><path d="M1098.5 433.9l17.5 10.0v20.0l-17.5 10.0l-17.5 -10.0v-20.0z"/><path d="M1108.5 437.6l17.5 10.0v20.0l-17.5 10.0l-17.5 -10.0v-20.0z"/><path d="M1118.6 442.6l17.5 10.0v20.0l-17.5 10.0l-17.5 -10.0v-20.0z"/><path d="M1128.6 444.6l17.5 10.0v20.0l-17.5 10.0l-17.5 -10.0v-20.0z"/><path d="M1138.7 449.4l17.5 10.0v20.0l-17.5 10.0l-17.5 -10.0v-20.0z"/><path d="M1148.7 451.6l17.5 10.0v20.0l-17.5 10.0l-17.5 -10.0v-20.0z"/><path d="M1158.7 456.9l17.5 10.0v20.0l-17.5 10.0l-17.5 -10.0v-20.0z"/><path d="M1168.8 459.9l17.5 10.0v20.0l-17.5 10.0l-17.5 -10.0v-20.0z"/><path d="M1178.8 463.0l17.5 10.0v20.0l-17.5 10.0l-17.5 -10.0v-20.0z"/><path d="M1188.9 469.4l17.5 10.0v20.0l-17.5 10.0l-17.5 -10.0v-20.0z"/><path d="M1198.9 473.1l17.5 10.0v20.0l-17.5 10.0l-17.5 -10.0v-20.0z"/><path d="M1209.0 479.2l17.5 10.0v20.0l-17.5 10.0l-17.5 -10.0v-20.0z"/><path d="M1219.0 484.4l17.5 10.0v20.0l-17.5 10.0l-17.5 -10.0v-20.0z"/><path d="M1229.1 489.5l17.5 10.0v20.0l-17.5 10.0l-17.5 -10.0v-20.0z"/><path d="M1239.1 495.9l17.5 10.0v20.0l-17.5 10.0l-17.5 -10.0v-20.0z"/><path d="M1249.2 502.6l17.5 10.0v20.0l-17.5 10.0l-17.5 -10.0v-20.0z"/><path d="M1259.2 509.6l17.5 10.0v20.0l-17.5 10.0l-17.5 -10.0v-20.0z"/><path d="M1269.3 516.7l17.5 10.0v20.0l-17.5 10.0l-17.5 -10.0v-20.0z"/><path d="M1279.3 524.4l17.5 10.0v20.0l-17.5 10.0l-17.5 -10.0v-20.0z"/><path d="M1289.3 534.2l17.5 10.0v20.0l-17.5 10.0l-17.5 -10.0v-20.0z"/><path d="M1299.4 540.8l17.5 10.0v20.0l-17.5 10.0l-17.5 -10.0v-20.0z"/><path d="M1309.4 551.6l17.5 10.0v20.0l-17.5 10.0l-17.5 -10.0v-20.0z"/><path d="M1319.5 562.7l17.5 10.0v20.0l-17.5 10.0l-17.5 -10.0v-20.0z"/><path d="M1329.5 573.8l17.5 10.0v20.0l-17.5 10.0l-17.5 -10.0v-20.0z"/><path d="M1339.6 585.4l17.5 10.0v20.0l-17.5 10.0l-17.5 -10.0v-20.0z"/><path d="M1349.6 605.2l17.5 10.0v20.0l-17.5 10.0l-17.5 -10.0v-20.0z"/><path d="M1359.7 614.4l17.5 10.0v20.0l-17.5 10.0l-17.5 -10.0v-20.0z"/><path d="M1369.7 632.7l17.5 10.0v20.0l-17.5 10.0l-17.5 -10.0v-20.0z"/><path d="M1379.8 644.4l17.5 10.0v20.0l-17.5 10.0l-17.5 -10.0v-20.0z"/><path d="M1389.8 669.9l17.5 10.0v20.0l-17.5 10.0l-17.5 -10.0v-20.0z"/><path d="M1399.8 673.8l17.5 10.0v20.0l-17.5 10.0l-17.5 -10.0v-20.0z"/><path d="M1409.9 693.5l17.5 10.0v20.0l-17.5 10.0l-17.5 -10.0v-20.0z"/><path d="M1419.9 715.3l17.5 10.0v20.0l-17.5 10.0l-17.5 -10.0v-20.0z"/><path d="M1430.0 726.1l17.5 10.0v20.0l-17.5 10.0l-17.5 -10.0v-20.0z"/><path d="M1440.0 733.5l17.5 10.0v20.0l-17.5 10.0l-17.5 -10.0v-20.0z"/><path d="M1450.1 741.6l17.5 10.0v20.0l-17.5 10.0l-17.5 -10.0v-20.0z"/><path d="M1460.1 751.1l17.5 10.0v20.0l-17.5 10.0l-17.5 -10.0v-20.0z"/><path d="M1470.2 759.4l17.5 10.0v20.0l-17.5 10.0l-17.5 -10.0v-20.0z"/><path d="M1480.2 767.5l17.5 10.0v20.0l-17.5 10.0l-17.5 -10.0v-20.0z"/><path d="M1490.3 771.3l17.5 10.0v20.0l-17.5 10.0l-17.5 -10.0v-20.0z"/><path d="M1500.3 771.8l17.5 10.0v20.0l-17.5 10.0l-17.5 -10.0v-20.0z"/><path d="M1510.4 773.8l17.5 10.0v20.0l-17.5 10.0l-17.5 -10.0v-20.0z"/><path d="M1520.4 776.1l17.5 10.0v20.0l-17.5 10.0l-17.5 -10.0v-20.0z"/><path d="M1530.4 778.4l17.5 10.0v20.0l-17.5 10.0l-17.5 -10.0v-20.0z"/><path d="M1540.5 782.6l17.5 10.0v20.0l-17.5 10.0l-17.5 -10.0v-20.0z"/><path d="M1550.5 784.9l17.5 10.0v20.0l-17.5 10.0l-17.5 -10.0v-20.0z"/><path d="M1560.6 788.4l17.5 10.0v20.0l-17.5 10.0l-17.5 -10.0v-20.0z"/><path d="M1570.6 789.7l17.5 10.0v20.0l-17.5 10.0l-17.5 -10.0v-20.0z"/><path d="M1580.7 792.9l17.5 10.0v20.0l-17.5 10.0l-17.5 -10.0v-20.0z"/><path d="M1590.7 793.4l17.5 10.0v20.0l-17.5 10.0l-17.5 -10.0v-20.0z"/><path d="M1600.8 797.9l17.5 10.0v20.0l-17.5 10.0l-17.5 -10.0v-20.0z"/><path d="M1610.8 802.5l17.5 10.0v20.0l-17.5 10.0l-17.5 -10.0v-20.0z"/><path d="M1620.9 807.6l17.5 10.0v20.0l-17.5 10.0l-17.5 -10.0v-20.0z"/><path d="M1630.9 813.6l17.5 10.0v20.0l-17.5 10.0l-17.5 -10.0v-20.0z"/><path d="M1640.9 815.5l17.5 10.0v20.0l-17.5 10.0l-17.5 -10.0v-20.0z"/><path d="M1651.0 824.2l17.5 10.0v20.0l-17.5 10.0l-17.5 -10.0v-20.0z"/><path d="M1661.0 828.7l17.5 10.0v20.0l-17.5 10.0l-17.5 -10.0v-20.0z"/><path d="M1671.1 828.1l17.5 10.0v20.0l-17.5 10.0l-17.5 -10.0v-20.0z"/><path d="M1681.1 831.1l17.5 10.0v20.0l-17.5 10.0l-17.5 -10.0v-20.0z"/><path d="M1691.2 828.1l17.5 10.0v20.0l-17.5 10.0l-17.5 -10.0v-20.0z"/><path d="M1701.2 833.4l17.5 10.0v20.0l-17.5 10.0l-17.5 -10.0v-20.0z"/><path d="M1711.3 833.4l17.5 10.0v20.0l-17.5 10.0l-17.5 -10.0v-20.0z"/><path d="M1721.3 837.2l17.5 10.0v20.0l-17.5 10.0l-17.5 -10.0v-20.0z"/><path d="M1731.4 836.5l17.5 10.0v20.0l-17.5 10.0l-17.5 -10.0v-20.0z"/><path d="M1741.4 838.1l17.5 10.0v20.0l-17.5 10.0l-17.5 -10.0v-20.0z"/><path d="M1751.5 840.5l17.5 10.0v20.0l-17.5 10.0l-17.5 -10.0v-20.0z"/><path d="M1761.5 841.1l17.5 10.0v20.0l-17.5 10.0l-17.5 -10.0v-20.0z"/><path d="M1774.5 847.1l17.5 10.0v20.0l-17.5 10.0l-17.5 -10.0v-20.0z"/><path d="M1787.5 842.3l17.5 10.0v20.0l-17.5 10.0l-17.5 -10.0v-20.0z"/><path d="M1800.5 841.6l17.5 10.0v20.0l-17.5 10.0l-17.5 -10.0v-20.0z"/><path d="M1813.5 849.3l17.5 10.0v20.0l-17.5 10.0l-17.5 -10.0v-20.0z"/><path d="M1826.5 853.2l17.5 10.0v20.0l-17.5 10.0l-17.5 -10.0v-20.0z"/><path d="M1839.5 856.5l17.5 10.0v20.0l-17.5 10.0l-17.5 -10.0v-20.0z"/></g><path d="M666.5 357.8 L669.5 358.4 L672.5 358.9 L675.5 359.5 L678.5 360.0 L681.5 360.6 L684.5 361.1 L687.5 361.7 L690.5 362.2 L693.5 362.8 L696.5 363.3 L699.5 363.9 L702.5 364.4 L705.5 365.0 L708.5 365.5 L711.5 366.0 L714.5 366.6 L717.5 367.1 L720.5 367.7 L723.5 368.2 L726.5 368.7 L729.5 369.3 L732.5 369.8 L735.5 370.4 L738.5 370.9 L741.5 371.4 L744.5 372.0 L747.5 372.5 L750.5 373.0 L753.5 373.5 L756.5 374.1 L759.5 374.6 L762.5 375.1 L765.5 375.6 L768.5 376.2 L771.5 376.7 L774.5 377.2 L777.5 377.7 L780.5 378.2 L783.5 378.7 L786.5 379.2 L789.5 379.7 L792.5 380.2 L795.5 380.7 L798.5 381.2 L801.5 381.7 L804.5 382.2 L807.5 382.7 L810.5 383.2 L813.5 383.7 L816.5 384.2 L819.5 384.7 L822.5 385.2 L825.5 385.7 L828.5 386.2 L831.5 386.7 L834.5 387.2 L837.5 387.7 L840.5 388.3 L843.5 388.8 L846.5 389.3 L849.5 389.9 L852.5 390.4 L855.5 391.0 L858.5 391.5 L861.5 392.1 L864.5 392.7 L867.5 393.3 L870.5 393.9 L873.5 394.5 L876.5 395.1 L879.5 395.7 L882.5 396.3 L885.5 397.0 L888.5 397.6 L891.5 398.2 L894.5 398.9 L897.5 399.5 L900.5 400.2 L903.5 400.8 L906.5 401.4 L909.5 402.1 L912.5 402.7 L915.5 403.3 L918.5 403.9 L921.5 404.6 L924.5 405.2 L927.5 405.8 L930.5 406.3 L933.5 406.9 L936.5 407.5 L939.5 408.0 L942.5 408.5 L945.5 409.0 L948.5 409.5 L951.5 410.0 L954.5 410.5 L957.5 411.0 L960.5 411.4 L963.5 411.9 L966.5 412.4 L969.5 412.9 L972.5 413.4 L975.5 413.9 L978.5 414.5 L981.5 415.1 L984.5 415.7 L987.5 416.3 L990.5 416.9 L993.5 417.6 L996.5 418.4 L999.5 419.2 L1002.5 420.0 L1005.5 420.8 L1008.5 421.7 L1011.5 422.6 L1014.5 423.5 L1017.5 424.4 L1020.5 425.3 L1023.5 426.2 L1026.5 427.2 L1029.5 428.1 L1032.5 429.0 L1035.5 429.9 L1038.5 430.8 L1041.5 431.7 L1044.5 432.5 L1047.5 433.3 L1050.5 434.2 L1053.5 435.0 L1056.5 435.8 L1059.5 436.7 L1062.5 437.5 L1065.5 438.3 L1068.5 439.1 L1071.5 439.9 L1074.5 440.7 L1077.5 441.6 L1080.5 442.4 L1083.5 443.2 L1086.5 444.1 L1089.5 444.9 L1092.5 445.7 L1095.5 446.6 L1098.5 447.4 L1101.5 448.3 L1104.5 449.1 L1107.5 450.0 L1110.5 450.8 L1113.5 451.7 L1116.5 452.6 L1119.5 453.6 L1122.5 454.5 L1125.5 455.5 L1128.5 456.5 L1131.5 457.5 L1134.5 458.5 L1137.5 459.5 L1140.5 460.5 L1143.5 461.5 L1146.5 462.6 L1149.5 463.6 L1152.5 464.7 L1155.5 465.8 L1158.5 466.9 L1161.5 468.1 L1164.5 469.2 L1167.5 470.4 L1170.5 471.6 L1173.5 472.8 L1176.5 474.1 L1179.5 475.4 L1182.5 476.7 L1185.5 478.0 L1188.5 479.4 L1191.5 480.8 L1194.5 482.3 L1197.5 483.8 L1200.5 485.3 L1203.5 486.9 L1206.5 488.6 L1209.5 490.3 L1212.5 492.0 L1215.5 493.7 L1218.5 495.5 L1221.5 497.4 L1224.5 499.2 L1227.5 501.1 L1230.5 503.0 L1233.5 504.9 L1236.5 506.9 L1239.5 508.9 L1242.5 510.9 L1245.5 512.9 L1248.5 515.0 L1251.5 517.0 L1254.5 519.1 L1257.5 521.2 L1260.5 523.3 L1263.5 525.4 L1266.5 527.5 L1269.5 529.6 L1272.5 531.7 L1275.5 533.9 L1278.5 536.0 L1281.5 538.2 L1284.5 540.5 L1287.5 542.8 L1290.5 545.1 L1293.5 547.6 L1296.5 550.0 L1299.5 552.6 L1302.5 555.2 L1305.5 557.9 L1308.5 560.7 L1311.5 563.5 L1314.5 566.5 L1317.5 569.7 L1320.5 573.2 L1323.5 576.8 L1326.5 580.6 L1329.5 584.5 L1332.5 588.5 L1335.5 592.5 L1338.5 596.4 L1341.5 600.4 L1344.5 604.2 L1347.5 608.0 L1350.5 611.8 L1353.5 615.5 L1356.5 619.3 L1359.5 623.1 L1362.5 626.9 L1365.5 630.7 L1368.5 634.5 L1371.5 638.4 L1374.5 642.4 L1377.5 646.4 L1380.5 650.4 L1383.5 654.4 L1386.5 658.4 L1389.5 662.5 L1392.5 666.8 L1395.5 671.2 L1398.5 675.7 L1401.5 680.6 L1404.5 686.0 L1407.5 691.7 L1410.5 697.5 L1413.5 703.4 L1416.5 709.0 L1419.5 714.4 L1422.5 719.3 L1425.5 723.9 L1428.5 728.4 L1431.5 732.8 L1434.5 737.0 L1437.5 740.9 L1440.5 744.7 L1443.5 748.1 L1446.5 751.4 L1449.5 754.4 L1452.5 757.4 L1455.5 760.2 L1458.5 762.8 L1461.5 765.3 L1464.5 767.6 L1467.5 769.7 L1470.5 771.8 L1473.5 773.7 L1476.5 775.5 L1479.5 777.3 L1482.5 778.9 L1485.5 780.3 L1488.5 781.6 L1491.5 782.8 L1494.5 783.9 L1497.5 785.0 L1500.5 786.0 L1503.5 786.9 L1506.5 787.9 L1509.5 788.8 L1512.5 789.7 L1515.5 790.6 L1518.5 791.5 L1521.5 792.4 L1524.5 793.2 L1527.5 794.1 L1530.5 795.1 L1533.5 796.1 L1536.5 797.1 L1539.5 798.1 L1542.5 799.2 L1545.5 800.3 L1548.5 801.4 L1551.5 802.5 L1554.5 803.6 L1557.5 804.7 L1560.5 805.8 L1563.5 807.0 L1566.5 808.2 L1569.5 809.4 L1572.5 810.6 L1575.5 811.8 L1578.5 813.0 L1581.5 814.2 L1584.5 815.5 L1587.5 816.7 L1590.5 818.0 L1593.5 819.3 L1596.5 820.5 L1599.5 821.7 L1602.5 822.9 L1605.5 824.1 L1608.5 825.4 L1611.5 826.6 L1614.5 827.9 L1617.5 829.2 L1620.5 830.6 L1623.5 832.1 L1626.5 833.6 L1629.5 835.2 L1632.5 836.8 L1635.5 838.3 L1638.5 839.8 L1641.5 841.3 L1644.5 842.8 L1647.5 844.2 L1650.5 845.7 L1653.5 847.2 L1656.5 848.6 L1659.5 850.0 L1662.5 851.3 L1665.5 852.4 L1668.5 853.4 L1671.5 854.3 L1674.5 855.2 L1677.5 856.0 L1680.5 856.7 L1683.5 857.4 L1686.5 858.0 L1689.5 858.5 L1692.5 859.0 L1695.5 859.4 L1698.5 859.7 L1701.5 860.0 L1704.5 860.3 L1707.5 860.6 L1710.5 860.8 L1713.5 861.1 L1716.5 861.3 L1719.5 861.4 L1722.5 861.6 L1725.5 861.7 L1728.5 861.9 L1731.5 862.0 L1734.5 862.2 L1737.5 862.3 L1740.5 862.5 L1743.5 862.6 L1746.5 862.8 L1749.5 862.9 L1752.5 863.1 L1755.5 863.2 L1758.5 863.4 L1761.5 863.5 L1764.5 863.7 L1767.5 863.8 L1770.5 864.0 L1773.5 864.1 L1776.5 864.3 L1779.5 864.4 L1782.5 864.5 L1785.5 864.6 L1788.5 864.8 L1791.5 864.9 L1794.5 865.0 L1797.5 865.1 L1800.5 865.2 L1803.5 865.3 L1806.5 865.4 L1809.5 865.5 L1812.5 865.6 L1815.5 865.7 L1818.5 865.8 L1821.5 865.9 L1824.5 866.0 L1827.5 866.1 L1830.5 866.2 L1833.5 866.2 L1836.5 866.3 L1839.5 866.4" fill="none" stroke="#000" stroke-width="11" stroke-linecap="round" stroke-linejoin="round"/>
<g fill="#FF8000" stroke="#000" stroke-width="3.5" stroke-linejoin="miter" shape-rendering="crispEdges"><path d="M651.5 533.2h30.0v30.0h-30.0z"/><path d="M661.5 538.8h30.0v30.0h-30.0z"/><path d="M671.6 542.2h30.0v30.0h-30.0z"/><path d="M681.6 536.2h30.0v30.0h-30.0z"/><path d="M691.7 547.1h30.0v30.0h-30.0z"/><path d="M701.7 550.1h30.0v30.0h-30.0z"/><path d="M711.8 537.2h30.0v30.0h-30.0z"/><path d="M721.8 542.2h30.0v30.0h-30.0z"/><path d="M731.9 543.4h30.0v30.0h-30.0z"/><path d="M741.9 543.4h30.0v30.0h-30.0z"/><path d="M752.0 545.7h30.0v30.0h-30.0z"/><path d="M762.0 545.5h30.0v30.0h-30.0z"/><path d="M772.1 545.1h30.0v30.0h-30.0z"/><path d="M782.1 547.5h30.0v30.0h-30.0z"/><path d="M792.1 548.3h30.0v30.0h-30.0z"/><path d="M802.2 548.5h30.0v30.0h-30.0z"/><path d="M812.2 549.9h30.0v30.0h-30.0z"/><path d="M822.3 548.5h30.0v30.0h-30.0z"/><path d="M832.3 549.2h30.0v30.0h-30.0z"/><path d="M842.4 549.7h30.0v30.0h-30.0z"/><path d="M852.4 551.6h30.0v30.0h-30.0z"/><path d="M862.5 552.1h30.0v30.0h-30.0z"/><path d="M872.5 552.9h30.0v30.0h-30.0z"/><path d="M882.6 554.2h30.0v30.0h-30.0z"/><path d="M892.6 554.8h30.0v30.0h-30.0z"/><path d="M902.6 555.2h30.0v30.0h-30.0z"/><path d="M912.7 557.4h30.0v30.0h-30.0z"/><path d="M922.7 558.0h30.0v30.0h-30.0z"/><path d="M932.8 559.5h30.0v30.0h-30.0z"/><path d="M942.8 561.6h30.0v30.0h-30.0z"/><path d="M952.9 561.1h30.0v30.0h-30.0z"/><path d="M962.9 563.1h30.0v30.0h-30.0z"/><path d="M973.0 564.1h30.0v30.0h-30.0z"/><path d="M983.0 564.6h30.0v30.0h-30.0z"/><path d="M993.1 566.1h30.0v30.0h-30.0z"/><path d="M1003.1 568.2h30.0v30.0h-30.0z"/><path d="M1013.2 568.3h30.0v30.0h-30.0z"/><path d="M1023.2 570.1h30.0v30.0h-30.0z"/><path d="M1033.2 571.6h30.0v30.0h-30.0z"/><path d="M1043.3 572.2h30.0v30.0h-30.0z"/><path d="M1053.3 574.5h30.0v30.0h-30.0z"/><path d="M1063.4 575.5h30.0v30.0h-30.0z"/><path d="M1073.4 577.0h30.0v30.0h-30.0z"/><path d="M1083.5 579.1h30.0v30.0h-30.0z"/><path d="M1093.5 580.6h30.0v30.0h-30.0z"/><path d="M1103.6 583.1h30.0v30.0h-30.0z"/><path d="M1113.6 584.9h30.0v30.0h-30.0z"/><path d="M1123.7 588.2h30.0v30.0h-30.0z"/><path d="M1133.7 590.7h30.0v30.0h-30.0z"/><path d="M1143.7 593.7h30.0v30.0h-30.0z"/><path d="M1153.8 598.0h30.0v30.0h-30.0z"/><path d="M1163.8 603.0h30.0v30.0h-30.0z"/><path d="M1173.9 607.4h30.0v30.0h-30.0z"/><path d="M1183.9 611.5h30.0v30.0h-30.0z"/><path d="M1194.0 616.1h30.0v30.0h-30.0z"/><path d="M1204.0 622.0h30.0v30.0h-30.0z"/><path d="M1214.1 628.5h30.0v30.0h-30.0z"/><path d="M1224.1 636.2h30.0v30.0h-30.0z"/><path d="M1234.2 644.1h30.0v30.0h-30.0z"/><path d="M1244.2 652.3h30.0v30.0h-30.0z"/><path d="M1254.3 661.6h30.0v30.0h-30.0z"/><path d="M1264.3 670.8h30.0v30.0h-30.0z"/><path d="M1274.3 686.0h30.0v30.0h-30.0z"/><path d="M1284.4 692.6h30.0v30.0h-30.0z"/><path d="M1294.4 711.3h30.0v30.0h-30.0z"/><path d="M1304.5 730.7h30.0v30.0h-30.0z"/><path d="M1314.5 745.4h30.0v30.0h-30.0z"/><path d="M1324.6 760.9h30.0v30.0h-30.0z"/><path d="M1334.6 781.9h30.0v30.0h-30.0z"/><path d="M1344.7 791.0h30.0v30.0h-30.0z"/><path d="M1354.7 817.5h30.0v30.0h-30.0z"/><path d="M1364.8 824.3h30.0v30.0h-30.0z"/><path d="M1374.8 842.7h30.0v30.0h-30.0z"/><path d="M1384.8 846.5h30.0v30.0h-30.0z"/><path d="M1394.9 851.4h30.0v30.0h-30.0z"/><path d="M1404.9 867.3h30.0v30.0h-30.0z"/><path d="M1415.0 874.3h30.0v30.0h-30.0z"/><path d="M1425.0 878.5h30.0v30.0h-30.0z"/><path d="M1435.1 880.5h30.0v30.0h-30.0z"/><path d="M1445.1 886.3h30.0v30.0h-30.0z"/><path d="M1455.2 892.3h30.0v30.0h-30.0z"/><path d="M1465.2 895.8h30.0v30.0h-30.0z"/><path d="M1475.3 899.5h30.0v30.0h-30.0z"/><path d="M1485.3 903.7h30.0v30.0h-30.0z"/><path d="M1495.4 908.6h30.0v30.0h-30.0z"/><path d="M1505.4 917.2h30.0v30.0h-30.0z"/><path d="M1515.4 922.5h30.0v30.0h-30.0z"/><path d="M1525.5 928.7h30.0v30.0h-30.0z"/><path d="M1535.5 940.3h30.0v30.0h-30.0z"/><path d="M1545.6 945.1h30.0v30.0h-30.0z"/><path d="M1555.6 946.0h30.0v30.0h-30.0z"/><path d="M1565.7 948.9h30.0v30.0h-30.0z"/><path d="M1575.7 959.4h30.0v30.0h-30.0z"/><path d="M1585.8 966.6h30.0v30.0h-30.0z"/><path d="M1595.8 968.0h30.0v30.0h-30.0z"/><path d="M1605.9 971.6h30.0v30.0h-30.0z"/><path d="M1615.9 975.5h30.0v30.0h-30.0z"/><path d="M1625.9 976.7h30.0v30.0h-30.0z"/><path d="M1636.0 973.6h30.0v30.0h-30.0z"/><path d="M1646.0 976.9h30.0v30.0h-30.0z"/><path d="M1656.1 981.1h30.0v30.0h-30.0z"/><path d="M1666.1 985.4h30.0v30.0h-30.0z"/><path d="M1676.2 985.5h30.0v30.0h-30.0z"/><path d="M1686.2 986.4h30.0v30.0h-30.0z"/><path d="M1696.3 989.0h30.0v30.0h-30.0z"/><path d="M1706.3 989.7h30.0v30.0h-30.0z"/><path d="M1716.4 996.7h30.0v30.0h-30.0z"/><path d="M1726.4 997.1h30.0v30.0h-30.0z"/><path d="M1736.5 996.4h30.0v30.0h-30.0z"/><path d="M1746.5 1000.3h30.0v30.0h-30.0z"/><path d="M1759.5 1001.2h30.0v30.0h-30.0z"/><path d="M1772.5 1005.3h30.0v30.0h-30.0z"/><path d="M1785.5 1005.9h30.0v30.0h-30.0z"/><path d="M1798.5 1005.6h30.0v30.0h-30.0z"/><path d="M1811.5 1008.6h30.0v30.0h-30.0z"/><path d="M1824.5 1011.3h30.0v30.0h-30.0z"/></g><path d="M666.5 516.6 L669.5 516.9 L672.5 517.2 L675.5 517.5 L678.5 517.8 L681.5 518.1 L684.5 518.3 L687.5 518.6 L690.5 518.9 L693.5 519.2 L696.5 519.5 L699.5 519.8 L702.5 520.1 L705.5 520.4 L708.5 520.7 L711.5 521.0 L714.5 521.3 L717.5 521.6 L720.5 521.9 L723.5 522.2 L726.5 522.5 L729.5 522.8 L732.5 523.2 L735.5 523.5 L738.5 523.8 L741.5 524.1 L744.5 524.4 L747.5 524.7 L750.5 525.0 L753.5 525.3 L756.5 525.6 L759.5 526.0 L762.5 526.3 L765.5 526.6 L768.5 526.9 L771.5 527.2 L774.5 527.5 L777.5 527.9 L780.5 528.2 L783.5 528.5 L786.5 528.8 L789.5 529.1 L792.5 529.4 L795.5 529.8 L798.5 530.1 L801.5 530.4 L804.5 530.7 L807.5 531.0 L810.5 531.4 L813.5 531.7 L816.5 532.0 L819.5 532.4 L822.5 532.7 L825.5 533.0 L828.5 533.4 L831.5 533.7 L834.5 534.1 L837.5 534.4 L840.5 534.8 L843.5 535.1 L846.5 535.5 L849.5 535.8 L852.5 536.2 L855.5 536.5 L858.5 536.9 L861.5 537.3 L864.5 537.7 L867.5 538.0 L870.5 538.4 L873.5 538.8 L876.5 539.2 L879.5 539.6 L882.5 540.0 L885.5 540.4 L888.5 540.7 L891.5 541.1 L894.5 541.5 L897.5 542.0 L900.5 542.4 L903.5 542.8 L906.5 543.2 L909.5 543.6 L912.5 544.0 L915.5 544.4 L918.5 544.9 L921.5 545.3 L924.5 545.7 L927.5 546.2 L930.5 546.6 L933.5 547.1 L936.5 547.5 L939.5 548.0 L942.5 548.4 L945.5 548.9 L948.5 549.3 L951.5 549.8 L954.5 550.3 L957.5 550.7 L960.5 551.2 L963.5 551.7 L966.5 552.2 L969.5 552.7 L972.5 553.3 L975.5 553.8 L978.5 554.3 L981.5 554.9 L984.5 555.4 L987.5 556.0 L990.5 556.5 L993.5 557.1 L996.5 557.6 L999.5 558.1 L1002.5 558.7 L1005.5 559.2 L1008.5 559.7 L1011.5 560.2 L1014.5 560.7 L1017.5 561.3 L1020.5 561.8 L1023.5 562.3 L1026.5 562.8 L1029.5 563.3 L1032.5 563.8 L1035.5 564.3 L1038.5 564.8 L1041.5 565.3 L1044.5 565.8 L1047.5 566.4 L1050.5 566.9 L1053.5 567.5 L1056.5 568.0 L1059.5 568.6 L1062.5 569.1 L1065.5 569.7 L1068.5 570.3 L1071.5 571.0 L1074.5 571.6 L1077.5 572.2 L1080.5 572.9 L1083.5 573.6 L1086.5 574.3 L1089.5 575.0 L1092.5 575.7 L1095.5 576.5 L1098.5 577.3 L1101.5 578.1 L1104.5 578.9 L1107.5 579.7 L1110.5 580.6 L1113.5 581.5 L1116.5 582.4 L1119.5 583.3 L1122.5 584.3 L1125.5 585.3 L1128.5 586.3 L1131.5 587.3 L1134.5 588.4 L1137.5 589.5 L1140.5 590.6 L1143.5 591.7 L1146.5 592.9 L1149.5 594.1 L1152.5 595.4 L1155.5 596.7 L1158.5 598.0 L1161.5 599.3 L1164.5 600.7 L1167.5 602.2 L1170.5 603.8 L1173.5 605.6 L1176.5 607.4 L1179.5 609.3 L1182.5 611.3 L1185.5 613.3 L1188.5 615.4 L1191.5 617.6 L1194.5 619.8 L1197.5 622.0 L1200.5 624.3 L1203.5 626.5 L1206.5 628.8 L1209.5 631.0 L1212.5 633.2 L1215.5 635.4 L1218.5 637.6 L1221.5 639.8 L1224.5 642.0 L1227.5 644.3 L1230.5 646.6 L1233.5 648.9 L1236.5 651.3 L1239.5 653.7 L1242.5 656.2 L1245.5 658.7 L1248.5 661.3 L1251.5 663.9 L1254.5 666.5 L1257.5 669.2 L1260.5 671.9 L1263.5 674.6 L1266.5 677.3 L1269.5 680.0 L1272.5 682.8 L1275.5 685.5 L1278.5 688.4 L1281.5 691.3 L1284.5 694.2 L1287.5 697.2 L1290.5 700.3 L1293.5 703.4 L1296.5 706.6 L1299.5 709.9 L1302.5 713.2 L1305.5 716.5 L1308.5 719.9 L1311.5 723.3 L1314.5 726.7 L1317.5 730.1 L1320.5 733.5 L1323.5 737.0 L1326.5 740.5 L1329.5 744.1 L1332.5 747.8 L1335.5 751.7 L1338.5 755.7 L1341.5 759.9 L1344.5 764.3 L1347.5 768.8 L1350.5 773.5 L1353.5 778.3 L1356.5 783.1 L1359.5 788.1 L1362.5 793.2 L1365.5 798.4 L1368.5 803.9 L1371.5 809.5 L1374.5 815.0 L1377.5 820.2 L1380.5 825.1 L1383.5 829.9 L1386.5 834.6 L1389.5 839.1 L1392.5 843.4 L1395.5 847.7 L1398.5 851.8 L1401.5 855.7 L1404.5 859.2 L1407.5 862.3 L1410.5 865.2 L1413.5 867.9 L1416.5 870.3 L1419.5 872.6 L1422.5 874.8 L1425.5 876.8 L1428.5 878.7 L1431.5 880.5 L1434.5 882.1 L1437.5 883.5 L1440.5 884.9 L1443.5 886.1 L1446.5 887.3 L1449.5 888.4 L1452.5 889.5 L1455.5 890.6 L1458.5 891.7 L1461.5 892.9 L1464.5 894.2 L1467.5 895.4 L1470.5 896.6 L1473.5 897.8 L1476.5 899.0 L1479.5 900.3 L1482.5 901.6 L1485.5 903.0 L1488.5 904.5 L1491.5 906.2 L1494.5 908.1 L1497.5 910.2 L1500.5 912.5 L1503.5 915.0 L1506.5 917.7 L1509.5 920.6 L1512.5 923.5 L1515.5 926.6 L1518.5 929.7 L1521.5 932.8 L1524.5 936.2 L1527.5 940.0 L1530.5 944.0 L1533.5 948.1 L1536.5 952.2 L1539.5 956.0 L1542.5 959.4 L1545.5 962.2 L1548.5 964.7 L1551.5 967.3 L1554.5 969.8 L1557.5 972.2 L1560.5 974.3 L1563.5 976.0 L1566.5 977.2 L1569.5 977.9 L1572.5 978.1 L1575.5 978.2 L1578.5 978.3 L1581.5 978.3 L1584.5 978.4 L1587.5 978.4 L1590.5 978.5 L1593.5 978.5 L1596.5 978.5 L1599.5 978.1 L1602.5 977.5 L1605.5 976.8 L1608.5 976.5 L1611.5 976.5 L1614.5 976.7 L1617.5 976.9 L1620.5 977.1 L1623.5 977.6 L1626.5 978.6 L1629.5 980.0 L1632.5 981.8 L1635.5 983.8 L1638.5 985.9 L1641.5 988.0 L1644.5 989.9 L1647.5 991.6 L1650.5 993.3 L1653.5 995.2 L1656.5 997.1 L1659.5 999.0 L1662.5 1000.6 L1665.5 1002.1 L1668.5 1003.1 L1671.5 1003.7 L1674.5 1004.0 L1677.5 1004.2 L1680.5 1004.3 L1683.5 1004.4 L1686.5 1004.5 L1689.5 1004.6 L1692.5 1004.7 L1695.5 1004.9 L1698.5 1005.1 L1701.5 1005.4 L1704.5 1005.8 L1707.5 1006.2 L1710.5 1006.7 L1713.5 1007.3 L1716.5 1007.8 L1719.5 1008.4 L1722.5 1008.9 L1725.5 1009.5 L1728.5 1010.2 L1731.5 1010.9 L1734.5 1011.6 L1737.5 1012.3 L1740.5 1013.0 L1743.5 1013.5 L1746.5 1013.8 L1749.5 1014.0 L1752.5 1014.1 L1755.5 1014.2 L1758.5 1014.3 L1761.5 1014.4 L1764.5 1014.5 L1767.5 1014.6 L1770.5 1014.6 L1773.5 1014.6 L1776.5 1014.6 L1779.5 1014.5 L1782.5 1014.4 L1785.5 1014.3 L1788.5 1014.1 L1791.5 1014.0 L1794.5 1013.9 L1797.5 1013.9 L1800.5 1013.9 L1803.5 1013.9 L1806.5 1014.0 L1809.5 1014.0 L1812.5 1014.1 L1815.5 1014.2 L1818.5 1014.4 L1821.5 1014.5 L1824.5 1014.7 L1827.5 1014.9 L1830.5 1015.1 L1833.5 1015.3 L1836.5 1015.5 L1839.5 1015.8" fill="none" stroke="#000" stroke-width="11" stroke-linecap="round" stroke-linejoin="round"/>
<g fill="#0000FF" stroke="#000" stroke-width="3.5" stroke-linejoin="round" shape-rendering="crispEdges"><path d="M579.0 736.9h42.0l-21.0 -37.0z"/><path d="M592.3 736.0h42.0l-21.0 -37.0z"/><path d="M605.6 735.8h42.0l-21.0 -37.0z"/><path d="M618.9 735.3h42.0l-21.0 -37.0z"/><path d="M632.2 734.5h42.0l-21.0 -37.0z"/><path d="M645.5 733.4h42.0l-21.0 -37.0z"/><path d="M658.8 731.6h42.0l-21.0 -37.0z"/><path d="M672.1 730.6h42.0l-21.0 -37.0z"/><path d="M685.4 730.0h42.0l-21.0 -37.0z"/><path d="M698.7 728.9h42.0l-21.0 -37.0z"/><path d="M712.0 727.9h42.0l-21.0 -37.0z"/><path d="M725.3 726.5h42.0l-21.0 -37.0z"/><path d="M738.6 725.5h42.0l-21.0 -37.0z"/><path d="M751.9 724.6h42.0l-21.0 -37.0z"/><path d="M765.2 723.9h42.0l-21.0 -37.0z"/><path d="M778.5 723.3h42.0l-21.0 -37.0z"/><path d="M791.8 723.5h42.0l-21.0 -37.0z"/><path d="M805.1 723.3h42.0l-21.0 -37.0z"/><path d="M818.4 722.7h42.0l-21.0 -37.0z"/><path d="M831.7 722.5h42.0l-21.0 -37.0z"/><path d="M845.0 722.8h42.0l-21.0 -37.0z"/><path d="M858.3 722.5h42.0l-21.0 -37.0z"/><path d="M871.6 722.4h42.0l-21.0 -37.0z"/><path d="M884.9 722.6h42.0l-21.0 -37.0z"/><path d="M898.1 722.8h42.0l-21.0 -37.0z"/><path d="M911.4 723.3h42.0l-21.0 -37.0z"/><path d="M924.7 723.7h42.0l-21.0 -37.0z"/><path d="M938.0 724.1h42.0l-21.0 -37.0z"/><path d="M951.3 724.7h42.0l-21.0 -37.0z"/><path d="M964.6 724.8h42.0l-21.0 -37.0z"/><path d="M977.9 725.7h42.0l-21.0 -37.0z"/><path d="M991.2 726.6h42.0l-21.0 -37.0z"/><path d="M1004.5 727.0h42.0l-21.0 -37.0z"/><path d="M1017.8 728.2h42.0l-21.0 -37.0z"/><path d="M1031.1 729.4h42.0l-21.0 -37.0z"/><path d="M1044.4 730.5h42.0l-21.0 -37.0z"/><path d="M1057.7 732.5h42.0l-21.0 -37.0z"/><path d="M1071.0 734.2h42.0l-21.0 -37.0z"/><path d="M1084.3 736.6h42.0l-21.0 -37.0z"/><path d="M1097.6 739.5h42.0l-21.0 -37.0z"/><path d="M1110.9 742.3h42.0l-21.0 -37.0z"/><path d="M1124.2 746.6h42.0l-21.0 -37.0z"/><path d="M1137.5 750.8h42.0l-21.0 -37.0z"/><path d="M1150.8 757.3h42.0l-21.0 -37.0z"/><path d="M1164.1 763.6h42.0l-21.0 -37.0z"/><path d="M1177.4 771.7h42.0l-21.0 -37.0z"/><path d="M1190.7 781.2h42.0l-21.0 -37.0z"/><path d="M1204.0 792.5h42.0l-21.0 -37.0z"/><path d="M1217.3 803.6h42.0l-21.0 -37.0z"/><path d="M1230.6 817.9h42.0l-21.0 -37.0z"/><path d="M1243.9 832.6h42.0l-21.0 -37.0z"/><path d="M1257.2 848.6h42.0l-21.0 -37.0z"/><path d="M1270.5 867.0h42.0l-21.0 -37.0z"/><path d="M1283.8 887.9h42.0l-21.0 -37.0z"/><path d="M1297.1 908.4h42.0l-21.0 -37.0z"/><path d="M1310.4 931.1h42.0l-21.0 -37.0z"/><path d="M1323.7 961.0h42.0l-21.0 -37.0z"/><path d="M1337.0 990.4h42.0l-21.0 -37.0z"/><path d="M1350.3 1011.7h42.0l-21.0 -37.0z"/><path d="M1363.6 1019.9h42.0l-21.0 -37.0z"/><path d="M1376.9 1026.1h42.0l-21.0 -37.0z"/><path d="M1390.2 1025.8h42.0l-21.0 -37.0z"/><path d="M1403.5 1025.9h42.0l-21.0 -37.0z"/><path d="M1416.8 1027.8h42.0l-21.0 -37.0z"/><path d="M1430.1 1033.9h42.0l-21.0 -37.0z"/><path d="M1443.4 1043.0h42.0l-21.0 -37.0z"/><path d="M1456.7 1052.5h42.0l-21.0 -37.0z"/><path d="M1470.0 1066.2h42.0l-21.0 -37.0z"/><path d="M1483.3 1083.2h42.0l-21.0 -37.0z"/><path d="M1496.6 1099.4h42.0l-21.0 -37.0z"/><path d="M1509.9 1110.8h42.0l-21.0 -37.0z"/><path d="M1523.1 1119.0h42.0l-21.0 -37.0z"/><path d="M1536.4 1123.6h42.0l-21.0 -37.0z"/><path d="M1549.7 1126.7h42.0l-21.0 -37.0z"/><path d="M1563.0 1131.6h42.0l-21.0 -37.0z"/><path d="M1576.3 1138.1h42.0l-21.0 -37.0z"/><path d="M1589.6 1143.4h42.0l-21.0 -37.0z"/><path d="M1602.9 1149.0h42.0l-21.0 -37.0z"/><path d="M1616.2 1155.0h42.0l-21.0 -37.0z"/><path d="M1629.5 1156.7h42.0l-21.0 -37.0z"/><path d="M1642.8 1158.5h42.0l-21.0 -37.0z"/><path d="M1656.1 1162.3h42.0l-21.0 -37.0z"/><path d="M1669.4 1165.8h42.0l-21.0 -37.0z"/><path d="M1682.7 1167.6h42.0l-21.0 -37.0z"/><path d="M1696.0 1169.4h42.0l-21.0 -37.0z"/><path d="M1709.3 1169.6h42.0l-21.0 -37.0z"/><path d="M1722.6 1170.4h42.0l-21.0 -37.0z"/><path d="M1735.9 1170.4h42.0l-21.0 -37.0z"/><path d="M1749.2 1171.2h42.0l-21.0 -37.0z"/><path d="M1762.5 1175.4h42.0l-21.0 -37.0z"/><path d="M1775.8 1181.5h42.0l-21.0 -37.0z"/><path d="M1789.1 1185.1h42.0l-21.0 -37.0z"/><path d="M1802.4 1180.6h42.0l-21.0 -37.0z"/><path d="M1815.7 1177.8h42.0l-21.0 -37.0z"/><path d="M1829.0 1183.5h42.0l-21.0 -37.0z"/></g><path d="M600.0 709.0 L603.0 709.0 L606.0 709.0 L609.0 709.0 L612.0 709.1 L615.0 709.1 L618.0 709.1 L621.0 709.1 L624.0 709.1 L627.0 709.1 L630.0 709.2 L633.0 709.2 L636.0 709.2 L639.0 709.2 L642.0 709.2 L645.0 709.2 L648.0 709.3 L651.0 709.3 L654.0 709.3 L657.0 709.3 L660.0 709.3 L663.0 709.3 L666.0 709.4 L669.0 709.4 L672.0 709.4 L675.0 709.4 L678.0 709.4 L681.0 709.4 L684.0 709.4 L687.0 709.5 L690.0 709.5 L693.0 709.5 L696.0 709.5 L699.0 709.5 L702.0 709.5 L705.0 709.6 L708.0 709.6 L711.0 709.6 L714.0 709.6 L717.0 709.6 L720.0 709.6 L723.0 709.6 L726.0 709.7 L729.0 709.7 L732.0 709.7 L735.0 709.7 L738.0 709.7 L741.0 709.7 L744.0 709.7 L747.0 709.8 L750.0 709.8 L753.0 709.8 L756.0 709.8 L759.0 709.8 L762.0 709.8 L765.0 709.9 L768.0 709.9 L771.0 709.9 L774.0 709.9 L777.0 709.9 L780.0 709.9 L783.0 709.9 L786.0 710.0 L789.0 710.0 L792.0 710.0 L795.0 710.0 L798.0 710.0 L801.0 710.0 L804.0 710.0 L807.0 710.1 L810.0 710.1 L813.0 710.1 L816.0 710.1 L819.0 710.1 L822.0 710.1 L825.0 710.1 L828.0 710.2 L831.0 710.2 L834.0 710.2 L837.0 710.2 L840.0 710.2 L843.0 710.2 L846.0 710.2 L849.0 710.3 L852.0 710.3 L855.0 710.3 L858.0 710.3 L861.0 710.3 L864.0 710.3 L867.0 710.3 L870.0 710.4 L873.0 710.4 L876.0 710.4 L879.0 710.4 L882.0 710.4 L885.0 710.4 L888.0 710.4 L891.0 710.5 L894.0 710.5 L897.0 710.5 L900.0 710.5 L903.0 710.5 L906.0 710.5 L909.0 710.5 L912.0 710.5 L915.0 710.6 L918.0 710.6 L921.0 710.6 L924.0 710.6 L927.0 710.6 L930.0 710.6 L933.0 710.6 L936.0 710.6 L939.0 710.6 L942.0 710.6 L945.0 710.7 L948.0 710.7 L951.0 710.7 L954.0 710.7 L957.0 710.7 L960.0 710.7 L963.0 710.7 L966.0 710.7 L969.0 710.8 L972.0 710.8 L975.0 710.8 L978.0 710.8 L981.0 710.8 L984.0 710.9 L987.0 710.9 L990.0 710.9 L993.0 710.9 L996.0 711.0 L999.0 711.0 L1002.0 711.1 L1005.0 711.2 L1008.0 711.2 L1011.0 711.3 L1014.0 711.4 L1017.0 711.6 L1020.0 711.7 L1023.0 711.8 L1026.0 711.9 L1029.0 712.1 L1032.0 712.2 L1035.0 712.4 L1038.0 712.6 L1041.0 712.7 L1044.0 712.9 L1047.0 713.1 L1050.0 713.3 L1053.0 713.5 L1056.0 713.7 L1059.0 713.9 L1062.0 714.1 L1065.0 714.3 L1068.0 714.5 L1071.0 714.8 L1074.0 715.1 L1077.0 715.4 L1080.0 715.7 L1083.0 716.1 L1086.0 716.5 L1089.0 716.9 L1092.0 717.3 L1095.0 717.7 L1098.0 718.2 L1101.0 718.7 L1104.0 719.2 L1107.0 719.7 L1110.0 720.2 L1113.0 720.7 L1116.0 721.2 L1119.0 721.8 L1122.0 722.3 L1125.0 722.9 L1128.0 723.5 L1131.0 724.2 L1134.0 724.8 L1137.0 725.6 L1140.0 726.3 L1143.0 727.2 L1146.0 728.1 L1149.0 729.0 L1152.0 730.0 L1155.0 731.2 L1158.0 732.6 L1161.0 734.2 L1164.0 736.0 L1167.0 738.0 L1170.0 740.0 L1173.0 742.1 L1176.0 744.1 L1179.0 746.1 L1182.0 748.0 L1185.0 749.9 L1188.0 751.9 L1191.0 753.9 L1194.0 755.9 L1197.0 758.0 L1200.0 760.1 L1203.0 762.3 L1206.0 764.5 L1209.0 766.9 L1212.0 769.2 L1215.0 771.7 L1218.0 774.3 L1221.0 776.9 L1224.0 779.5 L1227.0 782.3 L1230.0 785.0 L1233.0 787.9 L1236.0 790.7 L1239.0 793.6 L1242.0 796.5 L1245.0 799.5 L1248.0 802.5 L1251.0 805.6 L1254.0 808.9 L1257.0 812.3 L1260.0 815.9 L1263.0 819.7 L1266.0 823.8 L1269.0 828.3 L1272.0 833.0 L1275.0 837.9 L1278.0 843.0 L1281.0 848.1 L1284.0 853.3 L1287.0 858.4 L1290.0 863.5 L1293.0 868.4 L1296.0 873.2 L1299.0 877.9 L1302.0 882.6 L1305.0 887.2 L1308.0 891.9 L1311.0 896.6 L1314.0 901.5 L1317.0 906.4 L1320.0 911.5 L1323.0 916.8 L1326.0 922.3 L1329.0 928.0 L1332.0 933.9 L1335.0 939.9 L1338.0 946.0 L1341.0 952.1 L1344.0 958.2 L1347.0 964.2 L1350.0 970.2 L1353.0 976.3 L1356.0 982.4 L1359.0 988.5 L1362.0 994.4 L1365.0 1000.7 L1368.0 1007.4 L1371.0 1013.8 L1374.0 1019.2 L1377.0 1022.7 L1380.0 1025.0 L1383.0 1027.1 L1386.0 1028.7 L1389.0 1029.7 L1392.0 1030.0 L1395.0 1029.7 L1398.0 1029.2 L1401.0 1028.6 L1404.0 1027.9 L1407.0 1027.2 L1410.0 1026.3 L1413.0 1025.2 L1416.0 1024.0 L1419.0 1022.7 L1422.0 1021.5 L1425.0 1020.4 L1428.0 1019.5 L1431.0 1018.8 L1434.0 1018.5 L1437.0 1018.5 L1440.0 1018.5 L1443.0 1018.5 L1446.0 1018.5 L1449.0 1018.5 L1452.0 1018.9 L1455.0 1020.1 L1458.0 1021.8 L1461.0 1023.7 L1464.0 1025.7 L1467.0 1027.7 L1470.0 1030.0 L1473.0 1032.7 L1476.0 1035.9 L1479.0 1039.8 L1482.0 1045.9 L1485.0 1052.4 L1488.0 1057.3 L1491.0 1061.5 L1494.0 1065.3 L1497.0 1069.1 L1500.0 1073.0 L1503.0 1077.1 L1506.0 1081.4 L1509.0 1085.6 L1512.0 1089.7 L1515.0 1093.6 L1518.0 1097.4 L1521.0 1101.2 L1524.0 1104.8 L1527.0 1107.9 L1530.0 1110.6 L1533.0 1113.1 L1536.0 1115.6 L1539.0 1117.7 L1542.0 1119.1 L1545.0 1119.5 L1548.0 1119.0 L1551.0 1117.9 L1554.0 1116.6 L1557.0 1115.5 L1560.0 1114.8 L1563.0 1114.2 L1566.0 1113.6 L1569.0 1113.1 L1572.0 1112.6 L1575.0 1112.3 L1578.0 1112.1 L1581.0 1112.0 L1584.0 1112.5 L1587.0 1113.6 L1590.0 1115.1 L1593.0 1116.8 L1596.0 1118.5 L1599.0 1120.6 L1602.0 1123.1 L1605.0 1125.8 L1608.0 1128.6 L1611.0 1131.2 L1614.0 1134.1 L1617.0 1137.1 L1620.0 1139.9 L1623.0 1142.3 L1626.0 1144.4 L1629.0 1146.5 L1632.0 1148.4 L1635.0 1149.8 L1638.0 1150.5 L1641.0 1150.4 L1644.0 1150.2 L1647.0 1149.8 L1650.0 1149.4 L1653.0 1149.0 L1656.0 1148.5 L1659.0 1147.8 L1662.0 1147.1 L1665.0 1146.6 L1668.0 1146.5 L1671.0 1146.7 L1674.0 1147.2 L1677.0 1147.8 L1680.0 1148.5 L1683.0 1149.3 L1686.0 1150.8 L1689.0 1152.7 L1692.0 1154.7 L1695.0 1156.4 L1698.0 1157.6 L1701.0 1158.8 L1704.0 1159.8 L1707.0 1160.6 L1710.0 1161.0 L1713.0 1161.0 L1716.0 1161.0 L1719.0 1161.0 L1722.0 1161.0 L1725.0 1161.0 L1728.0 1161.0 L1731.0 1161.0 L1734.0 1161.0 L1737.0 1161.1 L1740.0 1161.4 L1743.0 1161.7 L1746.0 1162.1 L1749.0 1162.5 L1752.0 1162.9 L1755.0 1163.3 L1758.0 1163.7 L1761.0 1164.0 L1764.0 1164.2 L1767.0 1164.4 L1770.0 1164.7 L1773.0 1164.9 L1776.0 1165.1 L1779.0 1165.3 L1782.0 1165.5 L1785.0 1165.7 L1788.0 1165.9 L1791.0 1166.0 L1794.0 1166.2 L1797.0 1166.3 L1800.0 1166.4 L1803.0 1166.5 L1806.0 1166.6 L1809.0 1166.7 L1812.0 1166.8 L1815.0 1166.9 L1818.0 1167.0 L1821.0 1167.0 L1824.0 1167.1 L1827.0 1167.2 L1830.0 1167.2 L1833.0 1167.3 L1836.0 1167.3 L1839.0 1167.4 L1842.0 1167.4 L1845.0 1167.5 L1848.0 1167.5 L1849.5 1167.5" fill="none" stroke="#000" stroke-width="11" stroke-linecap="round" stroke-linejoin="round"/>
<g fill="#FF0000" stroke="#000" stroke-width="3.5" stroke-linejoin="miter" shape-rendering="crispEdges"><path d="M649.2 812.2a17.25 17.25 0 1 0 34.5 0a17.25 17.25 0 1 0 -34.5 0z"/><path d="M659.3 814.0a17.25 17.25 0 1 0 34.5 0a17.25 17.25 0 1 0 -34.5 0z"/><path d="M669.3 813.8a17.25 17.25 0 1 0 34.5 0a17.25 17.25 0 1 0 -34.5 0z"/><path d="M679.4 811.9a17.25 17.25 0 1 0 34.5 0a17.25 17.25 0 1 0 -34.5 0z"/><path d="M689.4 812.0a17.25 17.25 0 1 0 34.5 0a17.25 17.25 0 1 0 -34.5 0z"/><path d="M699.5 810.5a17.25 17.25 0 1 0 34.5 0a17.25 17.25 0 1 0 -34.5 0z"/><path d="M709.5 812.3a17.25 17.25 0 1 0 34.5 0a17.25 17.25 0 1 0 -34.5 0z"/><path d="M719.6 811.1a17.25 17.25 0 1 0 34.5 0a17.25 17.25 0 1 0 -34.5 0z"/><path d="M729.6 810.1a17.25 17.25 0 1 0 34.5 0a17.25 17.25 0 1 0 -34.5 0z"/><path d="M739.7 810.8a17.25 17.25 0 1 0 34.5 0a17.25 17.25 0 1 0 -34.5 0z"/><path d="M749.7 809.8a17.25 17.25 0 1 0 34.5 0a17.25 17.25 0 1 0 -34.5 0z"/><path d="M759.8 809.8a17.25 17.25 0 1 0 34.5 0a17.25 17.25 0 1 0 -34.5 0z"/><path d="M769.8 809.2a17.25 17.25 0 1 0 34.5 0a17.25 17.25 0 1 0 -34.5 0z"/><path d="M779.8 810.2a17.25 17.25 0 1 0 34.5 0a17.25 17.25 0 1 0 -34.5 0z"/><path d="M789.9 809.0a17.25 17.25 0 1 0 34.5 0a17.25 17.25 0 1 0 -34.5 0z"/><path d="M799.9 810.1a17.25 17.25 0 1 0 34.5 0a17.25 17.25 0 1 0 -34.5 0z"/><path d="M810.0 808.8a17.25 17.25 0 1 0 34.5 0a17.25 17.25 0 1 0 -34.5 0z"/><path d="M820.0 808.1a17.25 17.25 0 1 0 34.5 0a17.25 17.25 0 1 0 -34.5 0z"/><path d="M830.1 809.0a17.25 17.25 0 1 0 34.5 0a17.25 17.25 0 1 0 -34.5 0z"/><path d="M840.1 808.9a17.25 17.25 0 1 0 34.5 0a17.25 17.25 0 1 0 -34.5 0z"/><path d="M850.2 809.1a17.25 17.25 0 1 0 34.5 0a17.25 17.25 0 1 0 -34.5 0z"/><path d="M860.2 807.5a17.25 17.25 0 1 0 34.5 0a17.25 17.25 0 1 0 -34.5 0z"/><path d="M870.3 808.8a17.25 17.25 0 1 0 34.5 0a17.25 17.25 0 1 0 -34.5 0z"/><path d="M880.3 808.9a17.25 17.25 0 1 0 34.5 0a17.25 17.25 0 1 0 -34.5 0z"/><path d="M890.4 807.8a17.25 17.25 0 1 0 34.5 0a17.25 17.25 0 1 0 -34.5 0z"/><path d="M900.4 808.1a17.25 17.25 0 1 0 34.5 0a17.25 17.25 0 1 0 -34.5 0z"/><path d="M910.4 808.5a17.25 17.25 0 1 0 34.5 0a17.25 17.25 0 1 0 -34.5 0z"/><path d="M920.5 807.8a17.25 17.25 0 1 0 34.5 0a17.25 17.25 0 1 0 -34.5 0z"/><path d="M930.5 809.1a17.25 17.25 0 1 0 34.5 0a17.25 17.25 0 1 0 -34.5 0z"/><path d="M940.6 808.8a17.25 17.25 0 1 0 34.5 0a17.25 17.25 0 1 0 -34.5 0z"/><path d="M950.6 809.2a17.25 17.25 0 1 0 34.5 0a17.25 17.25 0 1 0 -34.5 0z"/><path d="M960.7 808.5a17.25 17.25 0 1 0 34.5 0a17.25 17.25 0 1 0 -34.5 0z"/><path d="M970.7 809.0a17.25 17.25 0 1 0 34.5 0a17.25 17.25 0 1 0 -34.5 0z"/><path d="M980.8 808.9a17.25 17.25 0 1 0 34.5 0a17.25 17.25 0 1 0 -34.5 0z"/><path d="M990.8 809.8a17.25 17.25 0 1 0 34.5 0a17.25 17.25 0 1 0 -34.5 0z"/><path d="M1000.9 811.5a17.25 17.25 0 1 0 34.5 0a17.25 17.25 0 1 0 -34.5 0z"/><path d="M1010.9 812.9a17.25 17.25 0 1 0 34.5 0a17.25 17.25 0 1 0 -34.5 0z"/><path d="M1020.9 812.6a17.25 17.25 0 1 0 34.5 0a17.25 17.25 0 1 0 -34.5 0z"/><path d="M1031.0 814.2a17.25 17.25 0 1 0 34.5 0a17.25 17.25 0 1 0 -34.5 0z"/><path d="M1041.0 816.3a17.25 17.25 0 1 0 34.5 0a17.25 17.25 0 1 0 -34.5 0z"/><path d="M1051.1 819.3a17.25 17.25 0 1 0 34.5 0a17.25 17.25 0 1 0 -34.5 0z"/><path d="M1061.1 822.7a17.25 17.25 0 1 0 34.5 0a17.25 17.25 0 1 0 -34.5 0z"/><path d="M1071.2 824.7a17.25 17.25 0 1 0 34.5 0a17.25 17.25 0 1 0 -34.5 0z"/><path d="M1081.2 828.8a17.25 17.25 0 1 0 34.5 0a17.25 17.25 0 1 0 -34.5 0z"/><path d="M1091.3 832.9a17.25 17.25 0 1 0 34.5 0a17.25 17.25 0 1 0 -34.5 0z"/><path d="M1101.3 838.3a17.25 17.25 0 1 0 34.5 0a17.25 17.25 0 1 0 -34.5 0z"/><path d="M1111.4 842.5a17.25 17.25 0 1 0 34.5 0a17.25 17.25 0 1 0 -34.5 0z"/><path d="M1121.4 848.4a17.25 17.25 0 1 0 34.5 0a17.25 17.25 0 1 0 -34.5 0z"/><path d="M1131.5 856.9a17.25 17.25 0 1 0 34.5 0a17.25 17.25 0 1 0 -34.5 0z"/><path d="M1141.5 865.2a17.25 17.25 0 1 0 34.5 0a17.25 17.25 0 1 0 -34.5 0z"/><path d="M1151.5 874.5a17.25 17.25 0 1 0 34.5 0a17.25 17.25 0 1 0 -34.5 0z"/><path d="M1161.6 885.4a17.25 17.25 0 1 0 34.5 0a17.25 17.25 0 1 0 -34.5 0z"/><path d="M1171.6 896.2a17.25 17.25 0 1 0 34.5 0a17.25 17.25 0 1 0 -34.5 0z"/><path d="M1181.7 907.1a17.25 17.25 0 1 0 34.5 0a17.25 17.25 0 1 0 -34.5 0z"/><path d="M1191.7 921.3a17.25 17.25 0 1 0 34.5 0a17.25 17.25 0 1 0 -34.5 0z"/><path d="M1201.8 937.4a17.25 17.25 0 1 0 34.5 0a17.25 17.25 0 1 0 -34.5 0z"/><path d="M1211.8 956.8a17.25 17.25 0 1 0 34.5 0a17.25 17.25 0 1 0 -34.5 0z"/><path d="M1221.9 977.4a17.25 17.25 0 1 0 34.5 0a17.25 17.25 0 1 0 -34.5 0z"/><path d="M1231.9 1001.6a17.25 17.25 0 1 0 34.5 0a17.25 17.25 0 1 0 -34.5 0z"/><path d="M1242.0 1022.0a17.25 17.25 0 1 0 34.5 0a17.25 17.25 0 1 0 -34.5 0z"/><path d="M1252.0 1044.5a17.25 17.25 0 1 0 34.5 0a17.25 17.25 0 1 0 -34.5 0z"/><path d="M1262.0 1065.7a17.25 17.25 0 1 0 34.5 0a17.25 17.25 0 1 0 -34.5 0z"/><path d="M1272.1 1084.3a17.25 17.25 0 1 0 34.5 0a17.25 17.25 0 1 0 -34.5 0z"/><path d="M1282.1 1093.9a17.25 17.25 0 1 0 34.5 0a17.25 17.25 0 1 0 -34.5 0z"/><path d="M1292.2 1100.5a17.25 17.25 0 1 0 34.5 0a17.25 17.25 0 1 0 -34.5 0z"/><path d="M1302.2 1103.8a17.25 17.25 0 1 0 34.5 0a17.25 17.25 0 1 0 -34.5 0z"/><path d="M1312.3 1103.7a17.25 17.25 0 1 0 34.5 0a17.25 17.25 0 1 0 -34.5 0z"/><path d="M1322.3 1107.7a17.25 17.25 0 1 0 34.5 0a17.25 17.25 0 1 0 -34.5 0z"/><path d="M1332.4 1106.7a17.25 17.25 0 1 0 34.5 0a17.25 17.25 0 1 0 -34.5 0z"/><path d="M1342.4 1111.2a17.25 17.25 0 1 0 34.5 0a17.25 17.25 0 1 0 -34.5 0z"/><path d="M1352.5 1120.5a17.25 17.25 0 1 0 34.5 0a17.25 17.25 0 1 0 -34.5 0z"/><path d="M1362.5 1124.9a17.25 17.25 0 1 0 34.5 0a17.25 17.25 0 1 0 -34.5 0z"/><path d="M1372.6 1138.1a17.25 17.25 0 1 0 34.5 0a17.25 17.25 0 1 0 -34.5 0z"/><path d="M1382.6 1152.0a17.25 17.25 0 1 0 34.5 0a17.25 17.25 0 1 0 -34.5 0z"/><path d="M1392.6 1161.0a17.25 17.25 0 1 0 34.5 0a17.25 17.25 0 1 0 -34.5 0z"/><path d="M1402.7 1172.5a17.25 17.25 0 1 0 34.5 0a17.25 17.25 0 1 0 -34.5 0z"/><path d="M1412.7 1180.7a17.25 17.25 0 1 0 34.5 0a17.25 17.25 0 1 0 -34.5 0z"/><path d="M1422.8 1187.9a17.25 17.25 0 1 0 34.5 0a17.25 17.25 0 1 0 -34.5 0z"/><path d="M1432.8 1197.7a17.25 17.25 0 1 0 34.5 0a17.25 17.25 0 1 0 -34.5 0z"/><path d="M1442.9 1207.4a17.25 17.25 0 1 0 34.5 0a17.25 17.25 0 1 0 -34.5 0z"/><path d="M1452.9 1213.3a17.25 17.25 0 1 0 34.5 0a17.25 17.25 0 1 0 -34.5 0z"/><path d="M1463.0 1221.3a17.25 17.25 0 1 0 34.5 0a17.25 17.25 0 1 0 -34.5 0z"/><path d="M1473.0 1218.5a17.25 17.25 0 1 0 34.5 0a17.25 17.25 0 1 0 -34.5 0z"/><path d="M1483.1 1219.7a17.25 17.25 0 1 0 34.5 0a17.25 17.25 0 1 0 -34.5 0z"/><path d="M1493.1 1230.7a17.25 17.25 0 1 0 34.5 0a17.25 17.25 0 1 0 -34.5 0z"/><path d="M1503.1 1236.2a17.25 17.25 0 1 0 34.5 0a17.25 17.25 0 1 0 -34.5 0z"/><path d="M1513.2 1239.5a17.25 17.25 0 1 0 34.5 0a17.25 17.25 0 1 0 -34.5 0z"/><path d="M1523.2 1247.8a17.25 17.25 0 1 0 34.5 0a17.25 17.25 0 1 0 -34.5 0z"/><path d="M1533.3 1258.4a17.25 17.25 0 1 0 34.5 0a17.25 17.25 0 1 0 -34.5 0z"/><path d="M1543.3 1261.3a17.25 17.25 0 1 0 34.5 0a17.25 17.25 0 1 0 -34.5 0z"/><path d="M1553.4 1260.4a17.25 17.25 0 1 0 34.5 0a17.25 17.25 0 1 0 -34.5 0z"/><path d="M1563.4 1264.5a17.25 17.25 0 1 0 34.5 0a17.25 17.25 0 1 0 -34.5 0z"/><path d="M1573.5 1271.0a17.25 17.25 0 1 0 34.5 0a17.25 17.25 0 1 0 -34.5 0z"/><path d="M1583.5 1267.9a17.25 17.25 0 1 0 34.5 0a17.25 17.25 0 1 0 -34.5 0z"/><path d="M1593.6 1279.2a17.25 17.25 0 1 0 34.5 0a17.25 17.25 0 1 0 -34.5 0z"/><path d="M1603.6 1279.5a17.25 17.25 0 1 0 34.5 0a17.25 17.25 0 1 0 -34.5 0z"/><path d="M1613.7 1280.6a17.25 17.25 0 1 0 34.5 0a17.25 17.25 0 1 0 -34.5 0z"/><path d="M1623.7 1290.9a17.25 17.25 0 1 0 34.5 0a17.25 17.25 0 1 0 -34.5 0z"/><path d="M1633.7 1285.9a17.25 17.25 0 1 0 34.5 0a17.25 17.25 0 1 0 -34.5 0z"/><path d="M1643.8 1288.8a17.25 17.25 0 1 0 34.5 0a17.25 17.25 0 1 0 -34.5 0z"/><path d="M1653.8 1294.6a17.25 17.25 0 1 0 34.5 0a17.25 17.25 0 1 0 -34.5 0z"/><path d="M1663.9 1292.0a17.25 17.25 0 1 0 34.5 0a17.25 17.25 0 1 0 -34.5 0z"/><path d="M1673.9 1296.8a17.25 17.25 0 1 0 34.5 0a17.25 17.25 0 1 0 -34.5 0z"/><path d="M1684.0 1295.3a17.25 17.25 0 1 0 34.5 0a17.25 17.25 0 1 0 -34.5 0z"/><path d="M1694.0 1296.4a17.25 17.25 0 1 0 34.5 0a17.25 17.25 0 1 0 -34.5 0z"/><path d="M1704.1 1301.5a17.25 17.25 0 1 0 34.5 0a17.25 17.25 0 1 0 -34.5 0z"/><path d="M1714.1 1302.5a17.25 17.25 0 1 0 34.5 0a17.25 17.25 0 1 0 -34.5 0z"/><path d="M1724.2 1306.6a17.25 17.25 0 1 0 34.5 0a17.25 17.25 0 1 0 -34.5 0z"/><path d="M1734.2 1303.0a17.25 17.25 0 1 0 34.5 0a17.25 17.25 0 1 0 -34.5 0z"/><path d="M1744.2 1304.9a17.25 17.25 0 1 0 34.5 0a17.25 17.25 0 1 0 -34.5 0z"/><path d="M1757.2 1307.8a17.25 17.25 0 1 0 34.5 0a17.25 17.25 0 1 0 -34.5 0z"/><path d="M1770.2 1308.9a17.25 17.25 0 1 0 34.5 0a17.25 17.25 0 1 0 -34.5 0z"/><path d="M1783.2 1303.6a17.25 17.25 0 1 0 34.5 0a17.25 17.25 0 1 0 -34.5 0z"/><path d="M1796.2 1306.0a17.25 17.25 0 1 0 34.5 0a17.25 17.25 0 1 0 -34.5 0z"/><path d="M1809.2 1306.5a17.25 17.25 0 1 0 34.5 0a17.25 17.25 0 1 0 -34.5 0z"/><path d="M1822.2 1305.1a17.25 17.25 0 1 0 34.5 0a17.25 17.25 0 1 0 -34.5 0z"/></g><path d="M666.5 809.5 L669.5 809.5 L672.5 809.4 L675.5 809.4 L678.5 809.3 L681.5 809.3 L684.5 809.3 L687.5 809.2 L690.5 809.2 L693.5 809.2 L696.5 809.1 L699.5 809.1 L702.5 809.1 L705.5 809.1 L708.5 809.0 L711.5 809.0 L714.5 809.0 L717.5 808.9 L720.5 808.9 L723.5 808.9 L726.5 808.9 L729.5 808.8 L732.5 808.8 L735.5 808.8 L738.5 808.8 L741.5 808.7 L744.5 808.7 L747.5 808.7 L750.5 808.7 L753.5 808.6 L756.5 808.6 L759.5 808.6 L762.5 808.6 L765.5 808.6 L768.5 808.6 L771.5 808.5 L774.5 808.5 L777.5 808.5 L780.5 808.5 L783.5 808.5 L786.5 808.5 L789.5 808.4 L792.5 808.4 L795.5 808.4 L798.5 808.4 L801.5 808.4 L804.5 808.4 L807.5 808.4 L810.5 808.4 L813.5 808.3 L816.5 808.3 L819.5 808.3 L822.5 808.3 L825.5 808.3 L828.5 808.3 L831.5 808.3 L834.5 808.3 L837.5 808.3 L840.5 808.3 L843.5 808.3 L846.5 808.3 L849.5 808.2 L852.5 808.2 L855.5 808.2 L858.5 808.2 L861.5 808.2 L864.5 808.2 L867.5 808.2 L870.5 808.2 L873.5 808.2 L876.5 808.2 L879.5 808.2 L882.5 808.2 L885.5 808.2 L888.5 808.2 L891.5 808.2 L894.5 808.2 L897.5 808.2 L900.5 808.2 L903.5 808.2 L906.5 808.2 L909.5 808.2 L912.5 808.2 L915.5 808.2 L918.5 808.2 L921.5 808.2 L924.5 808.2 L927.5 808.2 L930.5 808.3 L933.5 808.3 L936.5 808.3 L939.5 808.3 L942.5 808.3 L945.5 808.3 L948.5 808.3 L951.5 808.4 L954.5 808.4 L957.5 808.4 L960.5 808.4 L963.5 808.4 L966.5 808.5 L969.5 808.5 L972.5 808.5 L975.5 808.5 L978.5 808.6 L981.5 808.7 L984.5 808.8 L987.5 808.9 L990.5 809.1 L993.5 809.2 L996.5 809.4 L999.5 809.6 L1002.5 809.8 L1005.5 810.0 L1008.5 810.2 L1011.5 810.5 L1014.5 810.7 L1017.5 811.0 L1020.5 811.2 L1023.5 811.5 L1026.5 811.8 L1029.5 812.1 L1032.5 812.5 L1035.5 812.9 L1038.5 813.3 L1041.5 813.8 L1044.5 814.3 L1047.5 814.9 L1050.5 815.5 L1053.5 816.1 L1056.5 816.7 L1059.5 817.4 L1062.5 818.1 L1065.5 818.7 L1068.5 819.5 L1071.5 820.2 L1074.5 821.0 L1077.5 821.9 L1080.5 822.7 L1083.5 823.7 L1086.5 824.6 L1089.5 825.6 L1092.5 826.6 L1095.5 827.7 L1098.5 828.8 L1101.5 830.0 L1104.5 831.2 L1107.5 832.4 L1110.5 833.8 L1113.5 835.2 L1116.5 836.6 L1119.5 838.1 L1122.5 839.7 L1125.5 841.4 L1128.5 843.1 L1131.5 844.9 L1134.5 846.7 L1137.5 848.6 L1140.5 850.7 L1143.5 852.8 L1146.5 855.1 L1149.5 857.5 L1152.5 860.0 L1155.5 862.6 L1158.5 865.3 L1161.5 868.0 L1164.5 870.8 L1167.5 873.6 L1170.5 876.5 L1173.5 879.4 L1176.5 882.5 L1179.5 885.6 L1182.5 888.7 L1185.5 892.0 L1188.5 895.4 L1191.5 898.9 L1194.5 902.4 L1197.5 906.1 L1200.5 909.9 L1203.5 913.8 L1206.5 917.8 L1209.5 921.9 L1212.5 926.3 L1215.5 931.0 L1218.5 935.9 L1221.5 941.1 L1224.5 946.7 L1227.5 952.9 L1230.5 959.4 L1233.5 966.1 L1236.5 972.8 L1239.5 979.2 L1242.5 985.7 L1245.5 992.2 L1248.5 998.8 L1251.5 1005.3 L1254.5 1011.8 L1257.5 1018.3 L1260.5 1024.7 L1263.5 1031.0 L1266.5 1037.4 L1269.5 1043.7 L1272.5 1049.9 L1275.5 1056.2 L1278.5 1062.3 L1281.5 1068.4 L1284.5 1074.3 L1287.5 1080.1 L1290.5 1085.9 L1293.5 1091.8 L1296.5 1097.6 L1299.5 1102.8 L1302.5 1106.9 L1305.5 1110.3 L1308.5 1113.5 L1311.5 1116.0 L1314.5 1117.2 L1317.5 1117.2 L1320.5 1116.9 L1323.5 1116.4 L1326.5 1115.8 L1329.5 1114.8 L1332.5 1113.1 L1335.5 1111.1 L1338.5 1109.1 L1341.5 1107.4 L1344.5 1105.9 L1347.5 1104.3 L1350.5 1102.9 L1353.5 1101.8 L1356.5 1101.2 L1359.5 1100.8 L1362.5 1100.4 L1365.5 1100.2 L1368.5 1100.0 L1371.5 1100.1 L1374.5 1100.8 L1377.5 1102.0 L1380.5 1103.6 L1383.5 1105.3 L1386.5 1107.1 L1389.5 1109.4 L1392.5 1112.1 L1395.5 1115.1 L1398.5 1118.3 L1401.5 1121.8 L1404.5 1125.8 L1407.5 1130.1 L1410.5 1134.8 L1413.5 1139.6 L1416.5 1144.5 L1419.5 1149.8 L1422.5 1155.3 L1425.5 1161.0 L1428.5 1166.8 L1431.5 1172.8 L1434.5 1179.1 L1437.5 1185.4 L1440.5 1191.4 L1443.5 1196.7 L1446.5 1202.0 L1449.5 1207.0 L1452.5 1211.6 L1455.5 1215.4 L1458.5 1218.4 L1461.5 1221.3 L1464.5 1223.9 L1467.5 1225.9 L1470.5 1226.9 L1473.5 1227.0 L1476.5 1226.9 L1479.5 1226.7 L1482.5 1226.4 L1485.5 1226.0 L1488.5 1225.0 L1491.5 1222.8 L1494.5 1220.2 L1497.5 1218.2 L1500.5 1217.5 L1503.5 1217.7 L1506.5 1218.3 L1509.5 1219.0 L1512.5 1219.9 L1515.5 1221.0 L1518.5 1222.8 L1521.5 1225.2 L1524.5 1228.2 L1527.5 1231.4 L1530.5 1235.0 L1533.5 1239.8 L1536.5 1245.2 L1539.5 1250.6 L1542.5 1255.3 L1545.5 1259.1 L1548.5 1262.9 L1551.5 1266.3 L1554.5 1269.1 L1557.5 1270.9 L1560.5 1271.9 L1563.5 1272.7 L1566.5 1273.4 L1569.5 1273.9 L1572.5 1274.0 L1575.5 1273.6 L1578.5 1272.6 L1581.5 1271.6 L1584.5 1270.7 L1587.5 1270.5 L1590.5 1270.5 L1593.5 1270.5 L1596.5 1270.5 L1599.5 1270.5 L1602.5 1270.6 L1605.5 1271.9 L1608.5 1274.0 L1611.5 1276.6 L1614.5 1279.1 L1617.5 1281.3 L1620.5 1283.8 L1623.5 1286.3 L1626.5 1288.5 L1629.5 1290.2 L1632.5 1291.3 L1635.5 1292.3 L1638.5 1293.2 L1641.5 1293.8 L1644.5 1294.0 L1647.5 1293.9 L1650.5 1293.6 L1653.5 1293.3 L1656.5 1293.1 L1659.5 1293.0 L1662.5 1293.1 L1665.5 1293.4 L1668.5 1293.7 L1671.5 1294.2 L1674.5 1294.7 L1677.5 1295.7 L1680.5 1297.2 L1683.5 1298.9 L1686.5 1300.3 L1689.5 1301.3 L1692.5 1302.2 L1695.5 1303.1 L1698.5 1303.8 L1701.5 1304.3 L1704.5 1304.8 L1707.5 1305.2 L1710.5 1305.6 L1713.5 1305.9 L1716.5 1306.2 L1719.5 1306.5 L1722.5 1306.7 L1725.5 1307.0 L1728.5 1307.2 L1731.5 1307.4 L1734.5 1307.6 L1737.5 1307.8 L1740.5 1308.0 L1743.5 1308.2 L1746.5 1308.3 L1749.5 1308.5 L1752.5 1308.6 L1755.5 1308.7 L1758.5 1308.8 L1761.5 1308.9 L1764.5 1309.0 L1767.5 1309.1 L1770.5 1309.2 L1773.5 1309.3 L1776.5 1309.4 L1779.5 1309.4 L1782.5 1309.5 L1785.5 1309.6 L1788.5 1309.7 L1791.5 1309.8 L1794.5 1309.8 L1797.5 1309.9 L1800.5 1310.0 L1803.5 1310.0 L1806.5 1310.1 L1809.5 1310.1 L1812.5 1310.2 L1815.5 1310.2 L1818.5 1310.3 L1821.5 1310.3 L1824.5 1310.3 L1827.5 1310.4 L1830.5 1310.4 L1833.5 1310.4 L1836.5 1310.4 L1839.5 1310.4" fill="none" stroke="#000" stroke-width="11" stroke-linecap="round" stroke-linejoin="round"/>
</g>
<g id="axes" stroke="#000" fill="none" shape-rendering="crispEdges">
<rect x="380.5" y="53.5" width="1818.5" height="1336.5" stroke-width="6.8"/>
<path d="M380.3 1391.0v12.5M380.3 54.5v12.5M460.7 1391.0v12.5M460.7 54.5v12.5M523.1 1391.0v12.5M523.1 54.5v12.5M574.1 1391.0v12.5M574.1 54.5v12.5M617.2 1391.0v12.5M617.2 54.5v12.5M654.6 1391.0v12.5M654.6 54.5v12.5M687.5 1391.0v12.5M687.5 54.5v12.5M717.0 1391.0v25.8M717.0 54.5v25.8M910.9 1391.0v12.5M910.9 54.5v12.5M1024.3 1391.0v12.5M1024.3 54.5v12.5M1104.7 1391.0v12.5M1104.7 54.5v12.5M1167.1 1391.0v12.5M1167.1 54.5v12.5M1218.1 1391.0v12.5M1218.1 54.5v12.5M1261.2 1391.0v12.5M1261.2 54.5v12.5M1298.6 1391.0v12.5M1298.6 54.5v12.5M1331.5 1391.0v12.5M1331.5 54.5v12.5M1361.0 1391.0v25.8M1361.0 54.5v25.8M1554.9 1391.0v12.5M1554.9 54.5v12.5M1668.3 1391.0v12.5M1668.3 54.5v12.5M1748.7 1391.0v12.5M1748.7 54.5v12.5M1811.1 1391.0v12.5M1811.1 54.5v12.5M1862.1 1391.0v12.5M1862.1 54.5v12.5M1905.2 1391.0v12.5M1905.2 54.5v12.5M1942.6 1391.0v12.5M1942.6 54.5v12.5M1975.5 1391.0v12.5M1975.5 54.5v12.5M2005.0 1391.0v25.8M2005.0 54.5v25.8M2198.9 1391.0v12.5M2198.9 54.5v12.5M379.5 1390.3h-25.8M2198.0 1390.3h-25.8M379.5 1345.1h-12.5M2198.0 1345.1h-12.5M379.5 1318.6h-12.5M2198.0 1318.6h-12.5M379.5 1299.9h-12.5M2198.0 1299.9h-12.5M379.5 1285.3h-12.5M2198.0 1285.3h-12.5M379.5 1273.4h-12.5M2198.0 1273.4h-12.5M379.5 1263.4h-12.5M2198.0 1263.4h-12.5M379.5 1254.7h-12.5M2198.0 1254.7h-12.5M379.5 1247.0h-12.5M2198.0 1247.0h-12.5M379.5 1240.1h-25.8M2198.0 1240.1h-25.8M379.5 1194.9h-12.5M2198.0 1194.9h-12.5M379.5 1168.5h-12.5M2198.0 1168.5h-12.5M379.5 1149.7h-12.5M2198.0 1149.7h-12.5M379.5 1135.1h-12.5M2198.0 1135.1h-12.5M379.5 1123.3h-12.5M2198.0 1123.3h-12.5M379.5 1113.2h-12.5M2198.0 1113.2h-12.5M379.5 1104.5h-12.5M2198.0 1104.5h-12.5M379.5 1096.8h-12.5M2198.0 1096.8h-12.5M379.5 1089.9h-25.8M2198.0 1089.9h-25.8M379.5 1044.7h-12.5M2198.0 1044.7h-12.5M379.5 1018.3h-12.5M2198.0 1018.3h-12.5M379.5 999.5h-12.5M2198.0 999.5h-12.5M379.5 985.0h-12.5M2198.0 985.0h-12.5M379.5 973.1h-12.5M2198.0 973.1h-12.5M379.5 963.0h-12.5M2198.0 963.0h-12.5M379.5 954.3h-12.5M2198.0 954.3h-12.5M379.5 946.7h-12.5M2198.0 946.7h-12.5M379.5 939.8h-25.8M2198.0 939.8h-25.8M379.5 894.6h-12.5M2198.0 894.6h-12.5M379.5 868.1h-12.5M2198.0 868.1h-12.5M379.5 849.4h-12.5M2198.0 849.4h-12.5M379.5 834.8h-12.5M2198.0 834.8h-12.5M379.5 822.9h-12.5M2198.0 822.9h-12.5M379.5 812.9h-12.5M2198.0 812.9h-12.5M379.5 804.2h-12.5M2198.0 804.2h-12.5M379.5 796.5h-12.5M2198.0 796.5h-12.5M379.5 789.6h-25.8M2198.0 789.6h-25.8M379.5 744.4h-12.5M2198.0 744.4h-12.5M379.5 718.0h-12.5M2198.0 718.0h-12.5M379.5 699.2h-12.5M2198.0 699.2h-12.5M379.5 684.7h-12.5M2198.0 684.7h-12.5M379.5 672.8h-12.5M2198.0 672.8h-12.5M379.5 662.7h-12.5M2198.0 662.7h-12.5M379.5 654.0h-12.5M2198.0 654.0h-12.5M379.5 646.3h-12.5M2198.0 646.3h-12.5M379.5 639.5h-25.8M2198.0 639.5h-25.8M379.5 594.3h-12.5M2198.0 594.3h-12.5M379.5 567.8h-12.5M2198.0 567.8h-12.5M379.5 549.1h-12.5M2198.0 549.1h-12.5M379.5 534.5h-12.5M2198.0 534.5h-12.5M379.5 522.6h-12.5M2198.0 522.6h-12.5M379.5 512.6h-12.5M2198.0 512.6h-12.5M379.5 503.9h-12.5M2198.0 503.9h-12.5M379.5 496.2h-12.5M2198.0 496.2h-12.5M379.5 489.3h-25.8M2198.0 489.3h-25.8M379.5 444.1h-12.5M2198.0 444.1h-12.5M379.5 417.7h-12.5M2198.0 417.7h-12.5M379.5 398.9h-12.5M2198.0 398.9h-12.5M379.5 384.3h-12.5M2198.0 384.3h-12.5M379.5 372.5h-12.5M2198.0 372.5h-12.5M379.5 362.4h-12.5M2198.0 362.4h-12.5M379.5 353.7h-12.5M2198.0 353.7h-12.5M379.5 346.0h-12.5M2198.0 346.0h-12.5M379.5 339.1h-25.8M2198.0 339.1h-25.8M379.5 293.9h-12.5M2198.0 293.9h-12.5M379.5 267.5h-12.5M2198.0 267.5h-12.5M379.5 248.7h-12.5M2198.0 248.7h-12.5M379.5 234.2h-12.5M2198.0 234.2h-12.5M379.5 222.3h-12.5M2198.0 222.3h-12.5M379.5 212.2h-12.5M2198.0 212.2h-12.5M379.5 203.5h-12.5M2198.0 203.5h-12.5M379.5 195.9h-12.5M2198.0 195.9h-12.5M379.5 189.0h-25.8M2198.0 189.0h-25.8M379.5 143.8h-12.5M2198.0 143.8h-12.5M379.5 117.3h-12.5M2198.0 117.3h-12.5M379.5 98.6h-12.5M2198.0 98.6h-12.5M379.5 84.0h-12.5M2198.0 84.0h-12.5M379.5 72.1h-12.5M2198.0 72.1h-12.5M379.5 62.1h-12.5M2198.0 62.1h-12.5M379.5 53.4h-12.5M2198.0 53.4h-12.5" stroke-width="6.9" stroke-linecap="round" shape-rendering="auto"/>
</g>
<g font-family="'Liberation Sans', Arial, sans-serif" fill="#000">
<text transform="translate(334.6 1421.7) scale(1 1.035)" font-size="83.4" text-anchor="end">10<tspan dy="-44.3" font-size="50.0">-2</tspan></text>
<text transform="translate(334.6 1271.5) scale(1 1.035)" font-size="83.4" text-anchor="end">10<tspan dy="-44.3" font-size="50.0">-1</tspan></text>
<text transform="translate(334.6 1121.3) scale(1 1.035)" font-size="83.4" text-anchor="end">10<tspan dy="-44.3" font-size="50.0">0</tspan></text>
<text transform="translate(334.6 971.2) scale(1 1.035)" font-size="83.4" text-anchor="end">10<tspan dy="-44.3" font-size="50.0">1</tspan></text>
<text transform="translate(334.6 821.0) scale(1 1.035)" font-size="83.4" text-anchor="end">10<tspan dy="-44.3" font-size="50.0">2</tspan></text>
<text transform="translate(334.6 670.9) scale(1 1.035)" font-size="83.4" text-anchor="end">10<tspan dy="-44.3" font-size="50.0">3</tspan></text>
<text transform="translate(334.6 520.7) scale(1 1.035)" font-size="83.4" text-anchor="end">10<tspan dy="-44.3" font-size="50.0">4</tspan></text>
<text transform="translate(334.6 370.5) scale(1 1.035)" font-size="83.4" text-anchor="end">10<tspan dy="-44.3" font-size="50.0">5</tspan></text>
<text transform="translate(334.6 220.4) scale(1 1.035)" font-size="83.4" text-anchor="end">10<tspan dy="-44.3" font-size="50.0">6</tspan></text>
<text transform="translate(717.0 1500.8) scale(1 1.035)" font-size="83.4" text-anchor="middle">0.01</text>
<text transform="translate(1361.0 1500.8) scale(1 1.035)" font-size="83.4" text-anchor="middle">0.1</text>
<text transform="translate(2005.0 1500.8) scale(1 1.035)" font-size="83.4" text-anchor="middle">1</text>
<text x="1133.5" y="1632.8" font-size="96.2">q (Å<tspan dx="-5" dy="-53" font-size="56.0">-1</tspan><tspan dx="2" dy="53" font-size="96.2">)</tspan></text>
<text transform="translate(126.1 1009) rotate(-90)" font-size="96.2">Intensity (cm<tspan dx="-6" dy="-52.1" font-size="56.0">-1</tspan><tspan dx="4" dy="52.1" font-size="96.2">)</tspan></text>
<text transform="translate(1977.5 611.3) scale(1 1.04)" font-size="74.6" font-weight="bold" fill="#000">0</text>
<text transform="translate(1978.0 757.8) scale(1 1.04)" font-size="74.6" font-weight="bold" fill="#800080">21</text>
<text transform="translate(1976.2 900.6) scale(1 1.04)" font-size="74.6" font-weight="bold" fill="#008000">35</text>
<text transform="translate(1981.6 1052.3) scale(1 1.04)" font-size="74.6" font-weight="bold" fill="#FF8000">70</text>
<text transform="translate(1981.3 1192.7) scale(1 1.04)" font-size="74.6" font-weight="bold" fill="#0000FF">90</text>
<text transform="translate(1979.1 1334.2) scale(1 1.04)" font-size="74.6" font-weight="bold" fill="#FF0000">210</text>
</g>
</svg>
</body></html>
